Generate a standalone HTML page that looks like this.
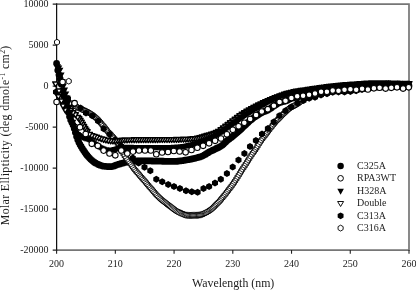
<!DOCTYPE html>
<html><head><meta charset="utf-8"><title>CD spectra</title>
<style>
html,body{margin:0;padding:0;background:#fff}
svg{display:block}
text{font-family:"Liberation Serif",serif;fill:#1c1c1c}
</style></head><body>
<svg width="416" height="291" viewBox="0 0 416 291">
<rect width="416" height="291" fill="#fff"/>
<path d="M56.6 4.1H409.0V250.1H56.6" fill="none" stroke="#767676" stroke-width="1.7"/><path d="M56.6 3.3V250.9" fill="none" stroke="#111" stroke-width="1.25"/><path d="M52.7 250.1H56.6M52.7 209.1H56.6M52.7 168.1H56.6M52.7 127.1H56.6M52.7 86.1H56.6M52.7 45.1H56.6M52.7 4.1H56.6M56.6 250.1V253.8M115.33 250.1V253.8M174.07 250.1V253.8M232.8 250.1V253.8M291.53 250.1V253.8M350.27 250.1V253.8M409 250.1V253.8" stroke="#222" stroke-width="1.1" fill="none"/><g font-size="10"><text x="48.5" y="253.4" text-anchor="end">-20000</text><text x="48.5" y="212.4" text-anchor="end">-15000</text><text x="48.5" y="171.4" text-anchor="end">-10000</text><text x="48.5" y="130.4" text-anchor="end">-5000</text><text x="48.5" y="89.4" text-anchor="end">0</text><text x="48.5" y="48.4" text-anchor="end">5000</text><text x="48.5" y="7.4" text-anchor="end">10000</text><text x="56.6" y="266.5" text-anchor="middle">200</text><text x="115.33" y="266.5" text-anchor="middle">210</text><text x="174.07" y="266.5" text-anchor="middle">220</text><text x="232.8" y="266.5" text-anchor="middle">230</text><text x="291.53" y="266.5" text-anchor="middle">240</text><text x="350.27" y="266.5" text-anchor="middle">250</text><text x="409" y="266.5" text-anchor="middle">260</text></g><text x="233.2" y="286.8" text-anchor="middle" font-size="11.85">Wavelength (nm)</text><text transform="translate(9.4,225.2) rotate(-90)" font-size="11.85" textLength="179.5" lengthAdjust="spacing">Molar Ellipticity (deg dmole<tspan font-size="7.7" dy="-4.3">-1</tspan><tspan dy="4.3"> cm</tspan><tspan font-size="7.7" dy="-4.3">2</tspan><tspan dy="4.3">)</tspan></text>
<path fill="#000" d="M405.6 86a3.4 3.4 0 1 0 6.8 0a3.4 3.4 0 1 0 -6.8 0ZM404.43 86a3.4 3.4 0 1 0 6.8 0a3.4 3.4 0 1 0 -6.8 0ZM403.25 86a3.4 3.4 0 1 0 6.8 0a3.4 3.4 0 1 0 -6.8 0ZM402.08 86a3.4 3.4 0 1 0 6.8 0a3.4 3.4 0 1 0 -6.8 0ZM400.9 86.01a3.4 3.4 0 1 0 6.8 0a3.4 3.4 0 1 0 -6.8 0ZM399.73 86.01a3.4 3.4 0 1 0 6.8 0a3.4 3.4 0 1 0 -6.8 0ZM398.55 86.02a3.4 3.4 0 1 0 6.8 0a3.4 3.4 0 1 0 -6.8 0ZM397.38 86.03a3.4 3.4 0 1 0 6.8 0a3.4 3.4 0 1 0 -6.8 0ZM396.2 86.03a3.4 3.4 0 1 0 6.8 0a3.4 3.4 0 1 0 -6.8 0ZM395.03 86.04a3.4 3.4 0 1 0 6.8 0a3.4 3.4 0 1 0 -6.8 0ZM393.85 86.05a3.4 3.4 0 1 0 6.8 0a3.4 3.4 0 1 0 -6.8 0ZM392.68 86.07a3.4 3.4 0 1 0 6.8 0a3.4 3.4 0 1 0 -6.8 0ZM391.5 86.08a3.4 3.4 0 1 0 6.8 0a3.4 3.4 0 1 0 -6.8 0ZM390.33 86.09a3.4 3.4 0 1 0 6.8 0a3.4 3.4 0 1 0 -6.8 0ZM389.15 86.11a3.4 3.4 0 1 0 6.8 0a3.4 3.4 0 1 0 -6.8 0ZM387.98 86.12a3.4 3.4 0 1 0 6.8 0a3.4 3.4 0 1 0 -6.8 0ZM386.81 86.14a3.4 3.4 0 1 0 6.8 0a3.4 3.4 0 1 0 -6.8 0ZM385.63 86.15a3.4 3.4 0 1 0 6.8 0a3.4 3.4 0 1 0 -6.8 0ZM384.46 86.17a3.4 3.4 0 1 0 6.8 0a3.4 3.4 0 1 0 -6.8 0ZM383.28 86.19a3.4 3.4 0 1 0 6.8 0a3.4 3.4 0 1 0 -6.8 0ZM382.11 86.21a3.4 3.4 0 1 0 6.8 0a3.4 3.4 0 1 0 -6.8 0ZM380.93 86.22a3.4 3.4 0 1 0 6.8 0a3.4 3.4 0 1 0 -6.8 0ZM379.76 86.24a3.4 3.4 0 1 0 6.8 0a3.4 3.4 0 1 0 -6.8 0ZM378.58 86.26a3.4 3.4 0 1 0 6.8 0a3.4 3.4 0 1 0 -6.8 0ZM377.41 86.29a3.4 3.4 0 1 0 6.8 0a3.4 3.4 0 1 0 -6.8 0ZM376.23 86.31a3.4 3.4 0 1 0 6.8 0a3.4 3.4 0 1 0 -6.8 0ZM375.06 86.33a3.4 3.4 0 1 0 6.8 0a3.4 3.4 0 1 0 -6.8 0ZM373.88 86.37a3.4 3.4 0 1 0 6.8 0a3.4 3.4 0 1 0 -6.8 0ZM372.71 86.41a3.4 3.4 0 1 0 6.8 0a3.4 3.4 0 1 0 -6.8 0ZM371.53 86.45a3.4 3.4 0 1 0 6.8 0a3.4 3.4 0 1 0 -6.8 0ZM370.36 86.5a3.4 3.4 0 1 0 6.8 0a3.4 3.4 0 1 0 -6.8 0ZM369.19 86.55a3.4 3.4 0 1 0 6.8 0a3.4 3.4 0 1 0 -6.8 0ZM368.01 86.61a3.4 3.4 0 1 0 6.8 0a3.4 3.4 0 1 0 -6.8 0ZM366.84 86.67a3.4 3.4 0 1 0 6.8 0a3.4 3.4 0 1 0 -6.8 0ZM365.66 86.74a3.4 3.4 0 1 0 6.8 0a3.4 3.4 0 1 0 -6.8 0ZM364.49 86.81a3.4 3.4 0 1 0 6.8 0a3.4 3.4 0 1 0 -6.8 0ZM363.31 86.88a3.4 3.4 0 1 0 6.8 0a3.4 3.4 0 1 0 -6.8 0ZM362.14 86.95a3.4 3.4 0 1 0 6.8 0a3.4 3.4 0 1 0 -6.8 0ZM360.96 87.02a3.4 3.4 0 1 0 6.8 0a3.4 3.4 0 1 0 -6.8 0ZM359.79 87.1a3.4 3.4 0 1 0 6.8 0a3.4 3.4 0 1 0 -6.8 0ZM358.61 87.17a3.4 3.4 0 1 0 6.8 0a3.4 3.4 0 1 0 -6.8 0ZM357.44 87.25a3.4 3.4 0 1 0 6.8 0a3.4 3.4 0 1 0 -6.8 0ZM356.26 87.32a3.4 3.4 0 1 0 6.8 0a3.4 3.4 0 1 0 -6.8 0ZM355.09 87.4a3.4 3.4 0 1 0 6.8 0a3.4 3.4 0 1 0 -6.8 0ZM353.91 87.48a3.4 3.4 0 1 0 6.8 0a3.4 3.4 0 1 0 -6.8 0ZM352.74 87.56a3.4 3.4 0 1 0 6.8 0a3.4 3.4 0 1 0 -6.8 0ZM351.57 87.64a3.4 3.4 0 1 0 6.8 0a3.4 3.4 0 1 0 -6.8 0ZM350.39 87.73a3.4 3.4 0 1 0 6.8 0a3.4 3.4 0 1 0 -6.8 0ZM349.22 87.82a3.4 3.4 0 1 0 6.8 0a3.4 3.4 0 1 0 -6.8 0ZM348.04 87.92a3.4 3.4 0 1 0 6.8 0a3.4 3.4 0 1 0 -6.8 0ZM346.87 88.01a3.4 3.4 0 1 0 6.8 0a3.4 3.4 0 1 0 -6.8 0ZM345.69 88.11a3.4 3.4 0 1 0 6.8 0a3.4 3.4 0 1 0 -6.8 0ZM344.52 88.22a3.4 3.4 0 1 0 6.8 0a3.4 3.4 0 1 0 -6.8 0ZM343.34 88.32a3.4 3.4 0 1 0 6.8 0a3.4 3.4 0 1 0 -6.8 0ZM342.17 88.43a3.4 3.4 0 1 0 6.8 0a3.4 3.4 0 1 0 -6.8 0ZM340.99 88.55a3.4 3.4 0 1 0 6.8 0a3.4 3.4 0 1 0 -6.8 0ZM339.82 88.66a3.4 3.4 0 1 0 6.8 0a3.4 3.4 0 1 0 -6.8 0ZM338.64 88.78a3.4 3.4 0 1 0 6.8 0a3.4 3.4 0 1 0 -6.8 0ZM337.47 88.91a3.4 3.4 0 1 0 6.8 0a3.4 3.4 0 1 0 -6.8 0ZM336.29 89.03a3.4 3.4 0 1 0 6.8 0a3.4 3.4 0 1 0 -6.8 0ZM335.12 89.17a3.4 3.4 0 1 0 6.8 0a3.4 3.4 0 1 0 -6.8 0ZM333.95 89.31a3.4 3.4 0 1 0 6.8 0a3.4 3.4 0 1 0 -6.8 0ZM332.77 89.46a3.4 3.4 0 1 0 6.8 0a3.4 3.4 0 1 0 -6.8 0ZM331.6 89.61a3.4 3.4 0 1 0 6.8 0a3.4 3.4 0 1 0 -6.8 0ZM330.42 89.77a3.4 3.4 0 1 0 6.8 0a3.4 3.4 0 1 0 -6.8 0ZM329.25 89.94a3.4 3.4 0 1 0 6.8 0a3.4 3.4 0 1 0 -6.8 0ZM328.07 90.12a3.4 3.4 0 1 0 6.8 0a3.4 3.4 0 1 0 -6.8 0ZM326.9 90.29a3.4 3.4 0 1 0 6.8 0a3.4 3.4 0 1 0 -6.8 0ZM325.72 90.48a3.4 3.4 0 1 0 6.8 0a3.4 3.4 0 1 0 -6.8 0ZM324.55 90.66a3.4 3.4 0 1 0 6.8 0a3.4 3.4 0 1 0 -6.8 0ZM323.37 90.85a3.4 3.4 0 1 0 6.8 0a3.4 3.4 0 1 0 -6.8 0ZM322.2 91.05a3.4 3.4 0 1 0 6.8 0a3.4 3.4 0 1 0 -6.8 0ZM321.02 91.24a3.4 3.4 0 1 0 6.8 0a3.4 3.4 0 1 0 -6.8 0ZM319.85 91.44a3.4 3.4 0 1 0 6.8 0a3.4 3.4 0 1 0 -6.8 0ZM318.67 91.64a3.4 3.4 0 1 0 6.8 0a3.4 3.4 0 1 0 -6.8 0ZM317.5 91.84a3.4 3.4 0 1 0 6.8 0a3.4 3.4 0 1 0 -6.8 0ZM316.33 92.05a3.4 3.4 0 1 0 6.8 0a3.4 3.4 0 1 0 -6.8 0ZM315.15 92.25a3.4 3.4 0 1 0 6.8 0a3.4 3.4 0 1 0 -6.8 0ZM313.98 92.47a3.4 3.4 0 1 0 6.8 0a3.4 3.4 0 1 0 -6.8 0ZM312.8 92.69a3.4 3.4 0 1 0 6.8 0a3.4 3.4 0 1 0 -6.8 0ZM311.63 92.91a3.4 3.4 0 1 0 6.8 0a3.4 3.4 0 1 0 -6.8 0ZM310.45 93.14a3.4 3.4 0 1 0 6.8 0a3.4 3.4 0 1 0 -6.8 0ZM309.28 93.37a3.4 3.4 0 1 0 6.8 0a3.4 3.4 0 1 0 -6.8 0ZM308.1 93.61a3.4 3.4 0 1 0 6.8 0a3.4 3.4 0 1 0 -6.8 0ZM306.93 93.85a3.4 3.4 0 1 0 6.8 0a3.4 3.4 0 1 0 -6.8 0ZM305.75 94.1a3.4 3.4 0 1 0 6.8 0a3.4 3.4 0 1 0 -6.8 0ZM304.58 94.35a3.4 3.4 0 1 0 6.8 0a3.4 3.4 0 1 0 -6.8 0ZM303.4 94.6a3.4 3.4 0 1 0 6.8 0a3.4 3.4 0 1 0 -6.8 0ZM302.23 94.86a3.4 3.4 0 1 0 6.8 0a3.4 3.4 0 1 0 -6.8 0ZM301.05 95.12a3.4 3.4 0 1 0 6.8 0a3.4 3.4 0 1 0 -6.8 0ZM299.88 95.4a3.4 3.4 0 1 0 6.8 0a3.4 3.4 0 1 0 -6.8 0ZM298.71 95.68a3.4 3.4 0 1 0 6.8 0a3.4 3.4 0 1 0 -6.8 0ZM297.53 95.97a3.4 3.4 0 1 0 6.8 0a3.4 3.4 0 1 0 -6.8 0ZM296.36 96.26a3.4 3.4 0 1 0 6.8 0a3.4 3.4 0 1 0 -6.8 0ZM295.18 96.56a3.4 3.4 0 1 0 6.8 0a3.4 3.4 0 1 0 -6.8 0ZM294.01 96.85a3.4 3.4 0 1 0 6.8 0a3.4 3.4 0 1 0 -6.8 0ZM292.83 97.12a3.4 3.4 0 1 0 6.8 0a3.4 3.4 0 1 0 -6.8 0ZM291.66 97.39a3.4 3.4 0 1 0 6.8 0a3.4 3.4 0 1 0 -6.8 0ZM290.48 97.67a3.4 3.4 0 1 0 6.8 0a3.4 3.4 0 1 0 -6.8 0ZM289.31 97.97a3.4 3.4 0 1 0 6.8 0a3.4 3.4 0 1 0 -6.8 0ZM288.13 98.32a3.4 3.4 0 1 0 6.8 0a3.4 3.4 0 1 0 -6.8 0ZM286.96 98.77a3.4 3.4 0 1 0 6.8 0a3.4 3.4 0 1 0 -6.8 0ZM285.78 99.32a3.4 3.4 0 1 0 6.8 0a3.4 3.4 0 1 0 -6.8 0ZM284.61 99.91a3.4 3.4 0 1 0 6.8 0a3.4 3.4 0 1 0 -6.8 0ZM283.43 100.47a3.4 3.4 0 1 0 6.8 0a3.4 3.4 0 1 0 -6.8 0ZM282.26 100.95a3.4 3.4 0 1 0 6.8 0a3.4 3.4 0 1 0 -6.8 0ZM281.09 101.3a3.4 3.4 0 1 0 6.8 0a3.4 3.4 0 1 0 -6.8 0ZM279.91 101.59a3.4 3.4 0 1 0 6.8 0a3.4 3.4 0 1 0 -6.8 0ZM278.74 101.85a3.4 3.4 0 1 0 6.8 0a3.4 3.4 0 1 0 -6.8 0ZM277.56 102.14a3.4 3.4 0 1 0 6.8 0a3.4 3.4 0 1 0 -6.8 0ZM276.39 102.5a3.4 3.4 0 1 0 6.8 0a3.4 3.4 0 1 0 -6.8 0ZM275.21 102.99a3.4 3.4 0 1 0 6.8 0a3.4 3.4 0 1 0 -6.8 0ZM274.04 103.67a3.4 3.4 0 1 0 6.8 0a3.4 3.4 0 1 0 -6.8 0ZM272.86 104.45a3.4 3.4 0 1 0 6.8 0a3.4 3.4 0 1 0 -6.8 0ZM271.69 105.27a3.4 3.4 0 1 0 6.8 0a3.4 3.4 0 1 0 -6.8 0ZM270.51 106.06a3.4 3.4 0 1 0 6.8 0a3.4 3.4 0 1 0 -6.8 0ZM269.34 106.86a3.4 3.4 0 1 0 6.8 0a3.4 3.4 0 1 0 -6.8 0ZM268.16 107.71a3.4 3.4 0 1 0 6.8 0a3.4 3.4 0 1 0 -6.8 0ZM266.99 108.54a3.4 3.4 0 1 0 6.8 0a3.4 3.4 0 1 0 -6.8 0ZM265.81 109.3a3.4 3.4 0 1 0 6.8 0a3.4 3.4 0 1 0 -6.8 0ZM264.64 109.93a3.4 3.4 0 1 0 6.8 0a3.4 3.4 0 1 0 -6.8 0ZM263.47 110.46a3.4 3.4 0 1 0 6.8 0a3.4 3.4 0 1 0 -6.8 0ZM262.29 110.93a3.4 3.4 0 1 0 6.8 0a3.4 3.4 0 1 0 -6.8 0ZM261.12 111.38a3.4 3.4 0 1 0 6.8 0a3.4 3.4 0 1 0 -6.8 0ZM259.94 111.86a3.4 3.4 0 1 0 6.8 0a3.4 3.4 0 1 0 -6.8 0ZM258.77 112.42a3.4 3.4 0 1 0 6.8 0a3.4 3.4 0 1 0 -6.8 0ZM257.59 113.04a3.4 3.4 0 1 0 6.8 0a3.4 3.4 0 1 0 -6.8 0ZM256.42 113.71a3.4 3.4 0 1 0 6.8 0a3.4 3.4 0 1 0 -6.8 0ZM255.24 114.42a3.4 3.4 0 1 0 6.8 0a3.4 3.4 0 1 0 -6.8 0ZM254.07 115.17a3.4 3.4 0 1 0 6.8 0a3.4 3.4 0 1 0 -6.8 0ZM252.89 115.94a3.4 3.4 0 1 0 6.8 0a3.4 3.4 0 1 0 -6.8 0ZM251.72 116.75a3.4 3.4 0 1 0 6.8 0a3.4 3.4 0 1 0 -6.8 0ZM250.54 117.6a3.4 3.4 0 1 0 6.8 0a3.4 3.4 0 1 0 -6.8 0ZM249.37 118.49a3.4 3.4 0 1 0 6.8 0a3.4 3.4 0 1 0 -6.8 0ZM248.19 119.41a3.4 3.4 0 1 0 6.8 0a3.4 3.4 0 1 0 -6.8 0ZM247.02 120.37a3.4 3.4 0 1 0 6.8 0a3.4 3.4 0 1 0 -6.8 0ZM245.85 121.37a3.4 3.4 0 1 0 6.8 0a3.4 3.4 0 1 0 -6.8 0ZM244.67 122.44a3.4 3.4 0 1 0 6.8 0a3.4 3.4 0 1 0 -6.8 0ZM243.5 123.53a3.4 3.4 0 1 0 6.8 0a3.4 3.4 0 1 0 -6.8 0ZM242.32 124.64a3.4 3.4 0 1 0 6.8 0a3.4 3.4 0 1 0 -6.8 0ZM241.15 125.74a3.4 3.4 0 1 0 6.8 0a3.4 3.4 0 1 0 -6.8 0ZM239.97 126.86a3.4 3.4 0 1 0 6.8 0a3.4 3.4 0 1 0 -6.8 0ZM238.8 128a3.4 3.4 0 1 0 6.8 0a3.4 3.4 0 1 0 -6.8 0ZM237.62 129.13a3.4 3.4 0 1 0 6.8 0a3.4 3.4 0 1 0 -6.8 0ZM236.45 130.24a3.4 3.4 0 1 0 6.8 0a3.4 3.4 0 1 0 -6.8 0ZM235.27 131.31a3.4 3.4 0 1 0 6.8 0a3.4 3.4 0 1 0 -6.8 0ZM234.1 132.34a3.4 3.4 0 1 0 6.8 0a3.4 3.4 0 1 0 -6.8 0ZM232.92 133.34a3.4 3.4 0 1 0 6.8 0a3.4 3.4 0 1 0 -6.8 0ZM231.75 134.32a3.4 3.4 0 1 0 6.8 0a3.4 3.4 0 1 0 -6.8 0ZM230.57 135.29a3.4 3.4 0 1 0 6.8 0a3.4 3.4 0 1 0 -6.8 0ZM229.4 136.24a3.4 3.4 0 1 0 6.8 0a3.4 3.4 0 1 0 -6.8 0ZM228.23 137.16a3.4 3.4 0 1 0 6.8 0a3.4 3.4 0 1 0 -6.8 0ZM227.05 138.05a3.4 3.4 0 1 0 6.8 0a3.4 3.4 0 1 0 -6.8 0ZM225.88 138.93a3.4 3.4 0 1 0 6.8 0a3.4 3.4 0 1 0 -6.8 0ZM224.7 139.83a3.4 3.4 0 1 0 6.8 0a3.4 3.4 0 1 0 -6.8 0ZM223.53 140.79a3.4 3.4 0 1 0 6.8 0a3.4 3.4 0 1 0 -6.8 0ZM222.35 141.89a3.4 3.4 0 1 0 6.8 0a3.4 3.4 0 1 0 -6.8 0ZM221.18 143.11a3.4 3.4 0 1 0 6.8 0a3.4 3.4 0 1 0 -6.8 0ZM220 144.31a3.4 3.4 0 1 0 6.8 0a3.4 3.4 0 1 0 -6.8 0ZM218.83 145.34a3.4 3.4 0 1 0 6.8 0a3.4 3.4 0 1 0 -6.8 0ZM217.65 146.11a3.4 3.4 0 1 0 6.8 0a3.4 3.4 0 1 0 -6.8 0ZM216.48 146.78a3.4 3.4 0 1 0 6.8 0a3.4 3.4 0 1 0 -6.8 0ZM215.3 147.38a3.4 3.4 0 1 0 6.8 0a3.4 3.4 0 1 0 -6.8 0ZM214.13 147.95a3.4 3.4 0 1 0 6.8 0a3.4 3.4 0 1 0 -6.8 0ZM212.95 148.52a3.4 3.4 0 1 0 6.8 0a3.4 3.4 0 1 0 -6.8 0ZM211.78 149.11a3.4 3.4 0 1 0 6.8 0a3.4 3.4 0 1 0 -6.8 0ZM210.61 149.67a3.4 3.4 0 1 0 6.8 0a3.4 3.4 0 1 0 -6.8 0ZM209.43 150.22a3.4 3.4 0 1 0 6.8 0a3.4 3.4 0 1 0 -6.8 0ZM208.26 150.78a3.4 3.4 0 1 0 6.8 0a3.4 3.4 0 1 0 -6.8 0ZM207.08 151.35a3.4 3.4 0 1 0 6.8 0a3.4 3.4 0 1 0 -6.8 0ZM205.91 151.95a3.4 3.4 0 1 0 6.8 0a3.4 3.4 0 1 0 -6.8 0ZM204.73 152.63a3.4 3.4 0 1 0 6.8 0a3.4 3.4 0 1 0 -6.8 0ZM203.56 153.37a3.4 3.4 0 1 0 6.8 0a3.4 3.4 0 1 0 -6.8 0ZM202.38 154.13a3.4 3.4 0 1 0 6.8 0a3.4 3.4 0 1 0 -6.8 0ZM201.21 154.87a3.4 3.4 0 1 0 6.8 0a3.4 3.4 0 1 0 -6.8 0ZM200.03 155.54a3.4 3.4 0 1 0 6.8 0a3.4 3.4 0 1 0 -6.8 0ZM198.86 156.1a3.4 3.4 0 1 0 6.8 0a3.4 3.4 0 1 0 -6.8 0ZM197.68 156.53a3.4 3.4 0 1 0 6.8 0a3.4 3.4 0 1 0 -6.8 0ZM196.51 156.91a3.4 3.4 0 1 0 6.8 0a3.4 3.4 0 1 0 -6.8 0ZM195.33 157.26a3.4 3.4 0 1 0 6.8 0a3.4 3.4 0 1 0 -6.8 0ZM194.16 157.57a3.4 3.4 0 1 0 6.8 0a3.4 3.4 0 1 0 -6.8 0ZM192.99 157.86a3.4 3.4 0 1 0 6.8 0a3.4 3.4 0 1 0 -6.8 0ZM191.81 158.15a3.4 3.4 0 1 0 6.8 0a3.4 3.4 0 1 0 -6.8 0ZM190.64 158.43a3.4 3.4 0 1 0 6.8 0a3.4 3.4 0 1 0 -6.8 0ZM189.46 158.71a3.4 3.4 0 1 0 6.8 0a3.4 3.4 0 1 0 -6.8 0ZM188.29 158.98a3.4 3.4 0 1 0 6.8 0a3.4 3.4 0 1 0 -6.8 0ZM187.11 159.24a3.4 3.4 0 1 0 6.8 0a3.4 3.4 0 1 0 -6.8 0ZM185.94 159.47a3.4 3.4 0 1 0 6.8 0a3.4 3.4 0 1 0 -6.8 0ZM184.76 159.68a3.4 3.4 0 1 0 6.8 0a3.4 3.4 0 1 0 -6.8 0ZM183.59 159.87a3.4 3.4 0 1 0 6.8 0a3.4 3.4 0 1 0 -6.8 0ZM182.41 160.07a3.4 3.4 0 1 0 6.8 0a3.4 3.4 0 1 0 -6.8 0ZM181.24 160.26a3.4 3.4 0 1 0 6.8 0a3.4 3.4 0 1 0 -6.8 0ZM180.06 160.45a3.4 3.4 0 1 0 6.8 0a3.4 3.4 0 1 0 -6.8 0ZM178.89 160.64a3.4 3.4 0 1 0 6.8 0a3.4 3.4 0 1 0 -6.8 0ZM177.71 160.81a3.4 3.4 0 1 0 6.8 0a3.4 3.4 0 1 0 -6.8 0ZM176.54 160.97a3.4 3.4 0 1 0 6.8 0a3.4 3.4 0 1 0 -6.8 0ZM175.37 161.11a3.4 3.4 0 1 0 6.8 0a3.4 3.4 0 1 0 -6.8 0ZM174.19 161.23a3.4 3.4 0 1 0 6.8 0a3.4 3.4 0 1 0 -6.8 0ZM173.02 161.32a3.4 3.4 0 1 0 6.8 0a3.4 3.4 0 1 0 -6.8 0ZM171.84 161.38a3.4 3.4 0 1 0 6.8 0a3.4 3.4 0 1 0 -6.8 0ZM170.67 161.4a3.4 3.4 0 1 0 6.8 0a3.4 3.4 0 1 0 -6.8 0ZM169.49 161.4a3.4 3.4 0 1 0 6.8 0a3.4 3.4 0 1 0 -6.8 0ZM168.32 161.39a3.4 3.4 0 1 0 6.8 0a3.4 3.4 0 1 0 -6.8 0ZM167.14 161.38a3.4 3.4 0 1 0 6.8 0a3.4 3.4 0 1 0 -6.8 0ZM165.97 161.37a3.4 3.4 0 1 0 6.8 0a3.4 3.4 0 1 0 -6.8 0ZM164.79 161.35a3.4 3.4 0 1 0 6.8 0a3.4 3.4 0 1 0 -6.8 0ZM163.62 161.33a3.4 3.4 0 1 0 6.8 0a3.4 3.4 0 1 0 -6.8 0ZM162.44 161.31a3.4 3.4 0 1 0 6.8 0a3.4 3.4 0 1 0 -6.8 0ZM161.27 161.29a3.4 3.4 0 1 0 6.8 0a3.4 3.4 0 1 0 -6.8 0ZM160.09 161.26a3.4 3.4 0 1 0 6.8 0a3.4 3.4 0 1 0 -6.8 0ZM158.92 161.24a3.4 3.4 0 1 0 6.8 0a3.4 3.4 0 1 0 -6.8 0ZM157.75 161.22a3.4 3.4 0 1 0 6.8 0a3.4 3.4 0 1 0 -6.8 0ZM156.57 161.2a3.4 3.4 0 1 0 6.8 0a3.4 3.4 0 1 0 -6.8 0ZM155.4 161.18a3.4 3.4 0 1 0 6.8 0a3.4 3.4 0 1 0 -6.8 0ZM154.22 161.15a3.4 3.4 0 1 0 6.8 0a3.4 3.4 0 1 0 -6.8 0ZM153.05 161.12a3.4 3.4 0 1 0 6.8 0a3.4 3.4 0 1 0 -6.8 0ZM151.87 161.08a3.4 3.4 0 1 0 6.8 0a3.4 3.4 0 1 0 -6.8 0ZM150.7 161.05a3.4 3.4 0 1 0 6.8 0a3.4 3.4 0 1 0 -6.8 0ZM149.52 161.02a3.4 3.4 0 1 0 6.8 0a3.4 3.4 0 1 0 -6.8 0ZM148.35 160.99a3.4 3.4 0 1 0 6.8 0a3.4 3.4 0 1 0 -6.8 0ZM147.17 160.96a3.4 3.4 0 1 0 6.8 0a3.4 3.4 0 1 0 -6.8 0ZM146 160.93a3.4 3.4 0 1 0 6.8 0a3.4 3.4 0 1 0 -6.8 0ZM144.82 160.92a3.4 3.4 0 1 0 6.8 0a3.4 3.4 0 1 0 -6.8 0ZM143.65 160.9a3.4 3.4 0 1 0 6.8 0a3.4 3.4 0 1 0 -6.8 0ZM142.47 160.9a3.4 3.4 0 1 0 6.8 0a3.4 3.4 0 1 0 -6.8 0ZM141.3 160.9a3.4 3.4 0 1 0 6.8 0a3.4 3.4 0 1 0 -6.8 0ZM140.13 160.9a3.4 3.4 0 1 0 6.8 0a3.4 3.4 0 1 0 -6.8 0ZM138.95 160.9a3.4 3.4 0 1 0 6.8 0a3.4 3.4 0 1 0 -6.8 0ZM137.78 160.9a3.4 3.4 0 1 0 6.8 0a3.4 3.4 0 1 0 -6.8 0ZM136.6 160.9a3.4 3.4 0 1 0 6.8 0a3.4 3.4 0 1 0 -6.8 0ZM135.43 160.91a3.4 3.4 0 1 0 6.8 0a3.4 3.4 0 1 0 -6.8 0ZM134.25 160.94a3.4 3.4 0 1 0 6.8 0a3.4 3.4 0 1 0 -6.8 0ZM133.08 161a3.4 3.4 0 1 0 6.8 0a3.4 3.4 0 1 0 -6.8 0ZM131.9 161.06a3.4 3.4 0 1 0 6.8 0a3.4 3.4 0 1 0 -6.8 0ZM130.73 161.14a3.4 3.4 0 1 0 6.8 0a3.4 3.4 0 1 0 -6.8 0ZM129.55 161.23a3.4 3.4 0 1 0 6.8 0a3.4 3.4 0 1 0 -6.8 0ZM128.38 161.33a3.4 3.4 0 1 0 6.8 0a3.4 3.4 0 1 0 -6.8 0ZM127.2 161.44a3.4 3.4 0 1 0 6.8 0a3.4 3.4 0 1 0 -6.8 0ZM126.03 161.59a3.4 3.4 0 1 0 6.8 0a3.4 3.4 0 1 0 -6.8 0ZM124.85 161.8a3.4 3.4 0 1 0 6.8 0a3.4 3.4 0 1 0 -6.8 0ZM123.68 162.05a3.4 3.4 0 1 0 6.8 0a3.4 3.4 0 1 0 -6.8 0ZM122.51 162.32a3.4 3.4 0 1 0 6.8 0a3.4 3.4 0 1 0 -6.8 0ZM121.33 162.6a3.4 3.4 0 1 0 6.8 0a3.4 3.4 0 1 0 -6.8 0ZM120.16 162.89a3.4 3.4 0 1 0 6.8 0a3.4 3.4 0 1 0 -6.8 0ZM118.98 163.19a3.4 3.4 0 1 0 6.8 0a3.4 3.4 0 1 0 -6.8 0ZM117.81 163.52a3.4 3.4 0 1 0 6.8 0a3.4 3.4 0 1 0 -6.8 0ZM116.63 163.88a3.4 3.4 0 1 0 6.8 0a3.4 3.4 0 1 0 -6.8 0ZM115.46 164.24a3.4 3.4 0 1 0 6.8 0a3.4 3.4 0 1 0 -6.8 0ZM114.28 164.6a3.4 3.4 0 1 0 6.8 0a3.4 3.4 0 1 0 -6.8 0ZM113.11 165.02a3.4 3.4 0 1 0 6.8 0a3.4 3.4 0 1 0 -6.8 0ZM111.93 165.48a3.4 3.4 0 1 0 6.8 0a3.4 3.4 0 1 0 -6.8 0ZM110.76 165.94a3.4 3.4 0 1 0 6.8 0a3.4 3.4 0 1 0 -6.8 0ZM109.58 166.33a3.4 3.4 0 1 0 6.8 0a3.4 3.4 0 1 0 -6.8 0ZM108.41 166.61a3.4 3.4 0 1 0 6.8 0a3.4 3.4 0 1 0 -6.8 0ZM107.23 166.7a3.4 3.4 0 1 0 6.8 0a3.4 3.4 0 1 0 -6.8 0ZM106.06 166.68a3.4 3.4 0 1 0 6.8 0a3.4 3.4 0 1 0 -6.8 0ZM104.89 166.63a3.4 3.4 0 1 0 6.8 0a3.4 3.4 0 1 0 -6.8 0ZM103.71 166.54a3.4 3.4 0 1 0 6.8 0a3.4 3.4 0 1 0 -6.8 0ZM102.54 166.44a3.4 3.4 0 1 0 6.8 0a3.4 3.4 0 1 0 -6.8 0ZM101.36 166.31a3.4 3.4 0 1 0 6.8 0a3.4 3.4 0 1 0 -6.8 0ZM100.19 166.17a3.4 3.4 0 1 0 6.8 0a3.4 3.4 0 1 0 -6.8 0ZM99.01 165.94a3.4 3.4 0 1 0 6.8 0a3.4 3.4 0 1 0 -6.8 0ZM97.84 165.6a3.4 3.4 0 1 0 6.8 0a3.4 3.4 0 1 0 -6.8 0ZM96.66 165.16a3.4 3.4 0 1 0 6.8 0a3.4 3.4 0 1 0 -6.8 0ZM95.49 164.67a3.4 3.4 0 1 0 6.8 0a3.4 3.4 0 1 0 -6.8 0ZM94.31 164.13a3.4 3.4 0 1 0 6.8 0a3.4 3.4 0 1 0 -6.8 0ZM93.14 163.57a3.4 3.4 0 1 0 6.8 0a3.4 3.4 0 1 0 -6.8 0ZM91.96 162.92a3.4 3.4 0 1 0 6.8 0a3.4 3.4 0 1 0 -6.8 0ZM90.79 162.16a3.4 3.4 0 1 0 6.8 0a3.4 3.4 0 1 0 -6.8 0ZM89.61 161.3a3.4 3.4 0 1 0 6.8 0a3.4 3.4 0 1 0 -6.8 0ZM88.44 160.37a3.4 3.4 0 1 0 6.8 0a3.4 3.4 0 1 0 -6.8 0ZM87.27 159.31a3.4 3.4 0 1 0 6.8 0a3.4 3.4 0 1 0 -6.8 0ZM86.09 158.12a3.4 3.4 0 1 0 6.8 0a3.4 3.4 0 1 0 -6.8 0ZM84.92 156.8a3.4 3.4 0 1 0 6.8 0a3.4 3.4 0 1 0 -6.8 0ZM83.74 155.4a3.4 3.4 0 1 0 6.8 0a3.4 3.4 0 1 0 -6.8 0ZM82.57 153.89a3.4 3.4 0 1 0 6.8 0a3.4 3.4 0 1 0 -6.8 0ZM81.39 152.26a3.4 3.4 0 1 0 6.8 0a3.4 3.4 0 1 0 -6.8 0ZM80.22 150.52a3.4 3.4 0 1 0 6.8 0a3.4 3.4 0 1 0 -6.8 0ZM79.04 148.67a3.4 3.4 0 1 0 6.8 0a3.4 3.4 0 1 0 -6.8 0ZM77.87 146.71a3.4 3.4 0 1 0 6.8 0a3.4 3.4 0 1 0 -6.8 0ZM76.69 144.65a3.4 3.4 0 1 0 6.8 0a3.4 3.4 0 1 0 -6.8 0ZM75.52 142.43a3.4 3.4 0 1 0 6.8 0a3.4 3.4 0 1 0 -6.8 0ZM74.34 139.86a3.4 3.4 0 1 0 6.8 0a3.4 3.4 0 1 0 -6.8 0ZM73.17 136.58a3.4 3.4 0 1 0 6.8 0a3.4 3.4 0 1 0 -6.8 0ZM71.99 132.39a3.4 3.4 0 1 0 6.8 0a3.4 3.4 0 1 0 -6.8 0ZM70.82 128.59a3.4 3.4 0 1 0 6.8 0a3.4 3.4 0 1 0 -6.8 0ZM69.65 125.12a3.4 3.4 0 1 0 6.8 0a3.4 3.4 0 1 0 -6.8 0ZM68.47 122.45a3.4 3.4 0 1 0 6.8 0a3.4 3.4 0 1 0 -6.8 0ZM67.3 119.96a3.4 3.4 0 1 0 6.8 0a3.4 3.4 0 1 0 -6.8 0ZM66.12 116.6a3.4 3.4 0 1 0 6.8 0a3.4 3.4 0 1 0 -6.8 0ZM64.95 112.26a3.4 3.4 0 1 0 6.8 0a3.4 3.4 0 1 0 -6.8 0ZM63.77 107.9a3.4 3.4 0 1 0 6.8 0a3.4 3.4 0 1 0 -6.8 0ZM62.6 104.06a3.4 3.4 0 1 0 6.8 0a3.4 3.4 0 1 0 -6.8 0ZM61.42 100.16a3.4 3.4 0 1 0 6.8 0a3.4 3.4 0 1 0 -6.8 0ZM60.25 95.79a3.4 3.4 0 1 0 6.8 0a3.4 3.4 0 1 0 -6.8 0ZM59.07 90.82a3.4 3.4 0 1 0 6.8 0a3.4 3.4 0 1 0 -6.8 0ZM57.9 84.27a3.4 3.4 0 1 0 6.8 0a3.4 3.4 0 1 0 -6.8 0ZM56.72 78.69a3.4 3.4 0 1 0 6.8 0a3.4 3.4 0 1 0 -6.8 0ZM55.55 74.8a3.4 3.4 0 1 0 6.8 0a3.4 3.4 0 1 0 -6.8 0ZM54.37 70.32a3.4 3.4 0 1 0 6.8 0a3.4 3.4 0 1 0 -6.8 0ZM53.2 63.3a3.4 3.4 0 1 0 6.8 0a3.4 3.4 0 1 0 -6.8 0Z"/>
<path d="M411.47 87.63L409 89.05L406.53 87.63L406.53 84.78L409 83.35L411.47 84.78ZM410.29 87.63L407.83 89.05L405.36 87.63L405.36 84.78L407.83 83.35L410.29 84.78ZM409.12 87.63L406.65 89.05L404.18 87.63L404.18 84.78L406.65 83.35L409.12 84.78ZM407.94 87.64L405.48 89.06L403.01 87.64L403.01 84.79L405.48 83.36L407.94 84.79ZM406.77 87.65L404.3 89.07L401.83 87.65L401.83 84.8L404.3 83.37L406.77 84.8ZM405.59 87.66L403.13 89.08L400.66 87.66L400.66 84.81L403.13 83.38L405.59 84.81ZM404.42 87.67L401.95 89.1L399.48 87.67L399.48 84.82L401.95 83.4L404.42 84.82ZM403.25 87.69L400.78 89.12L398.31 87.69L398.31 84.84L400.78 83.42L403.25 84.84ZM402.07 87.71L399.6 89.14L397.13 87.71L397.13 84.86L399.6 83.44L402.07 84.86ZM400.9 87.73L398.43 89.16L395.96 87.73L395.96 84.88L398.43 83.46L400.9 84.88ZM399.72 87.76L397.25 89.18L394.79 87.76L394.79 84.91L397.25 83.48L399.72 84.91ZM398.55 87.78L396.08 89.21L393.61 87.78L393.61 84.93L396.08 83.51L398.55 84.93ZM397.37 87.81L394.9 89.23L392.44 87.81L392.44 84.96L394.9 83.53L397.37 84.96ZM396.2 87.84L393.73 89.26L391.26 87.84L391.26 84.99L393.73 83.56L396.2 84.99ZM395.02 87.86L392.55 89.29L390.09 87.86L390.09 85.01L392.55 83.59L395.02 85.01ZM393.85 87.89L391.38 89.32L388.91 87.89L388.91 85.04L391.38 83.62L393.85 85.04ZM392.67 87.92L390.21 89.35L387.74 87.92L387.74 85.07L390.21 83.65L392.67 85.07ZM391.5 87.95L389.03 89.37L386.56 87.95L386.56 85.1L389.03 83.67L391.5 85.1ZM390.32 87.98L387.86 89.41L385.39 87.98L385.39 85.13L387.86 83.71L390.32 85.13ZM389.15 88.02L386.68 89.44L384.21 88.02L384.21 85.17L386.68 83.74L389.15 85.17ZM387.97 88.06L385.51 89.48L383.04 88.06L383.04 85.21L385.51 83.78L387.97 85.21ZM386.8 88.1L384.33 89.52L381.86 88.1L381.86 85.25L384.33 83.82L386.8 85.25ZM385.63 88.15L383.16 89.57L380.69 88.15L380.69 85.3L383.16 83.87L385.63 85.3ZM384.45 88.2L381.98 89.62L379.51 88.2L379.51 85.35L381.98 83.92L384.45 85.35ZM383.28 88.25L380.81 89.67L378.34 88.25L378.34 85.4L380.81 83.97L383.28 85.4ZM382.1 88.31L379.63 89.73L377.17 88.31L377.17 85.46L379.63 84.03L382.1 85.46ZM380.93 88.37L378.46 89.79L375.99 88.37L375.99 85.52L378.46 84.09L380.93 85.52ZM379.75 88.43L377.28 89.86L374.82 88.43L374.82 85.58L377.28 84.16L379.75 85.58ZM378.58 88.5L376.11 89.92L373.64 88.5L373.64 85.65L376.11 84.22L378.58 85.65ZM377.4 88.57L374.93 90L372.47 88.57L372.47 85.72L374.93 84.3L377.4 85.72ZM376.23 88.65L373.76 90.07L371.29 88.65L371.29 85.8L373.76 84.37L376.23 85.8ZM375.05 88.73L372.59 90.16L370.12 88.73L370.12 85.88L372.59 84.46L375.05 85.88ZM373.88 88.82L371.41 90.24L368.94 88.82L368.94 85.97L371.41 84.54L373.88 85.97ZM372.7 88.91L370.24 90.33L367.77 88.91L367.77 86.06L370.24 84.63L372.7 86.06ZM371.53 89.01L369.06 90.44L366.59 89.01L366.59 86.16L369.06 84.74L371.53 86.16ZM370.35 89.16L367.89 90.58L365.42 89.16L365.42 86.31L367.89 84.88L370.35 86.31ZM369.18 89.34L366.71 90.76L364.24 89.34L364.24 86.49L366.71 85.06L369.18 86.49ZM368.01 89.53L365.54 90.96L363.07 89.53L363.07 86.68L365.54 85.26L368.01 86.68ZM366.83 89.74L364.36 91.16L361.89 89.74L361.89 86.89L364.36 85.46L366.83 86.89ZM365.66 89.94L363.19 91.37L360.72 89.94L360.72 87.09L363.19 85.67L365.66 87.09ZM364.48 90.14L362.01 91.56L359.55 90.14L359.55 87.29L362.01 85.86L364.48 87.29ZM363.31 90.32L360.84 91.74L358.37 90.32L358.37 87.47L360.84 86.04L363.31 87.47ZM362.13 90.47L359.66 91.89L357.2 90.47L357.2 87.62L359.66 86.19L362.13 87.62ZM360.96 90.61L358.49 92.03L356.02 90.61L356.02 87.76L358.49 86.33L360.96 87.76ZM359.78 90.74L357.31 92.17L354.85 90.74L354.85 87.89L357.31 86.47L359.78 87.89ZM358.61 90.88L356.14 92.3L353.67 90.88L353.67 88.03L356.14 86.6L358.61 88.03ZM357.43 91L354.97 92.43L352.5 91L352.5 88.15L354.97 86.73L357.43 88.15ZM356.26 91.12L353.79 92.55L351.32 91.12L351.32 88.27L353.79 86.85L356.26 88.27ZM355.08 91.23L352.62 92.65L350.15 91.23L350.15 88.38L352.62 86.95L355.08 88.38ZM353.91 91.33L351.44 92.75L348.97 91.33L348.97 88.48L351.44 87.05L353.91 88.48ZM352.73 91.41L350.27 92.83L347.8 91.41L347.8 88.56L350.27 87.13L352.73 88.56ZM351.56 91.48L349.09 92.9L346.62 91.48L346.62 88.63L349.09 87.2L351.56 88.63ZM350.39 91.53L347.92 92.96L345.45 91.53L345.45 88.68L347.92 87.26L350.39 88.68ZM349.21 91.58L346.74 93.01L344.27 91.58L344.27 88.73L346.74 87.31L349.21 88.73ZM348.04 91.62L345.57 93.05L343.1 91.62L343.1 88.77L345.57 87.35L348.04 88.77ZM346.86 91.66L344.39 93.09L341.93 91.66L341.93 88.81L344.39 87.39L346.86 88.81ZM345.69 91.7L343.22 93.13L340.75 91.7L340.75 88.85L343.22 87.43L345.69 88.85ZM344.51 91.75L342.04 93.17L339.58 91.75L339.58 88.9L342.04 87.47L344.51 88.9ZM343.34 91.8L340.87 93.22L338.4 91.8L338.4 88.95L340.87 87.52L343.34 88.95ZM342.16 91.85L339.69 93.28L337.23 91.85L337.23 89L339.69 87.58L342.16 89ZM340.99 91.92L338.52 93.35L336.05 91.92L336.05 89.07L338.52 87.65L340.99 89.07ZM339.81 92.01L337.35 93.44L334.88 92.01L334.88 89.16L337.35 87.74L339.81 89.16ZM338.64 92.12L336.17 93.54L333.7 92.12L333.7 89.27L336.17 87.84L338.64 89.27ZM337.46 92.24L335 93.67L332.53 92.24L332.53 89.39L335 87.97L337.46 89.39ZM336.29 92.38L333.82 93.81L331.35 92.38L331.35 89.53L333.82 88.11L336.29 89.53ZM335.11 92.54L332.65 93.96L330.18 92.54L330.18 89.69L332.65 88.26L335.11 89.69ZM333.94 92.7L331.47 94.13L329 92.7L329 89.85L331.47 88.43L333.94 89.85ZM332.77 92.88L330.3 94.31L327.83 92.88L327.83 90.03L330.3 88.61L332.77 90.03ZM331.59 93.07L329.12 94.49L326.65 93.07L326.65 90.22L329.12 88.79L331.59 90.22ZM330.42 93.26L327.95 94.69L325.48 93.26L325.48 90.41L327.95 88.99L330.42 90.41ZM329.24 93.46L326.77 94.89L324.31 93.46L324.31 90.61L326.77 89.19L329.24 90.61ZM328.07 93.69L325.6 95.11L323.13 93.69L323.13 90.84L325.6 89.41L328.07 90.84ZM326.89 93.94L324.42 95.37L321.96 93.94L321.96 91.09L324.42 89.67L326.89 91.09ZM325.72 94.22L323.25 95.64L320.78 94.22L320.78 91.37L323.25 89.94L325.72 91.37ZM324.54 94.52L322.07 95.94L319.61 94.52L319.61 91.67L322.07 90.24L324.54 91.67ZM323.37 94.83L320.9 96.25L318.43 94.83L318.43 91.98L320.9 90.55L323.37 91.98ZM322.19 95.15L319.73 96.57L317.26 95.15L317.26 92.3L319.73 90.87L322.19 92.3ZM321.02 95.47L318.55 96.9L316.08 95.47L316.08 92.62L318.55 91.2L321.02 92.62ZM319.84 95.79L317.38 97.22L314.91 95.79L314.91 92.94L317.38 91.52L319.84 92.94ZM318.67 96.11L316.2 97.54L313.73 96.11L313.73 93.26L316.2 91.84L318.67 93.26ZM317.49 96.42L315.03 97.84L312.56 96.42L312.56 93.57L315.03 92.14L317.49 93.57ZM316.32 96.7L313.85 98.13L311.38 96.7L311.38 93.85L313.85 92.43L316.32 93.85ZM315.15 96.98L312.68 98.4L310.21 96.98L310.21 94.13L312.68 92.7L315.15 94.13ZM313.97 97.26L311.5 98.68L309.03 97.26L309.03 94.41L311.5 92.98L313.97 94.41ZM312.8 97.57L310.33 99L307.86 97.57L307.86 94.72L310.33 93.3L312.8 94.72ZM311.62 97.94L309.15 99.37L306.69 97.94L306.69 95.09L309.15 93.67L311.62 95.09ZM310.45 98.39L307.98 99.81L305.51 98.39L305.51 95.54L307.98 94.11L310.45 95.54ZM309.27 98.92L306.8 100.34L304.34 98.92L304.34 96.07L306.8 94.64L309.27 96.07ZM308.1 99.51L305.63 100.94L303.16 99.51L303.16 96.66L305.63 95.24L308.1 96.66ZM306.92 100.16L304.45 101.59L301.99 100.16L301.99 97.31L304.45 95.89L306.92 97.31ZM305.75 100.86L303.28 102.29L300.81 100.86L300.81 98.01L303.28 96.59L305.75 98.01ZM304.57 101.7L302.11 103.12L299.64 101.7L299.64 98.85L302.11 97.42L304.57 98.85ZM303.4 102.66L300.93 104.09L298.46 102.66L298.46 99.81L300.93 98.39L303.4 99.81ZM302.22 103.66L299.76 105.08L297.29 103.66L297.29 100.81L299.76 99.38L302.22 100.81ZM301.05 104.6L298.58 106.03L296.11 104.6L296.11 101.75L298.58 100.33L301.05 101.75ZM299.87 105.41L297.41 106.84L294.94 105.41L294.94 102.56L297.41 101.14L299.87 102.56ZM298.7 106.09L296.23 107.52L293.76 106.09L293.76 103.24L296.23 101.82L298.7 103.24ZM297.53 106.7L295.06 108.12L292.59 106.7L292.59 103.85L295.06 102.42L297.53 103.85ZM296.35 107.27L293.88 108.7L291.41 107.27L291.41 104.42L293.88 103L296.35 104.42ZM295.18 107.85L292.71 109.28L290.24 107.85L290.24 105L292.71 103.58L295.18 105ZM294 108.48L291.53 109.9L289.07 108.48L289.07 105.63L291.53 104.2L294 105.63ZM292.83 109.19L290.36 110.61L287.89 109.19L287.89 106.34L290.36 104.91L292.83 106.34ZM291.65 110.01L289.18 111.44L286.72 110.01L286.72 107.16L289.18 105.74L291.65 107.16ZM290.48 110.96L288.01 112.39L285.54 110.96L285.54 108.11L288.01 106.69L290.48 108.11ZM289.3 112.01L286.83 113.43L284.37 112.01L284.37 109.16L286.83 107.73L289.3 109.16ZM288.13 113.12L285.66 114.54L283.19 113.12L283.19 110.27L285.66 108.84L288.13 110.27ZM286.95 114.27L284.49 115.69L282.02 114.27L282.02 111.42L284.49 109.99L286.95 111.42ZM285.78 115.43L283.31 116.86L280.84 115.43L280.84 112.58L283.31 111.16L285.78 112.58ZM284.6 116.58L282.14 118.01L279.67 116.58L279.67 113.73L282.14 112.31L284.6 113.73ZM283.43 117.73L280.96 119.16L278.49 117.73L278.49 114.88L280.96 113.46L283.43 114.88ZM282.25 118.9L279.79 120.32L277.32 118.9L277.32 116.05L279.79 114.62L282.25 116.05ZM281.08 120.09L278.61 121.51L276.14 120.09L276.14 117.24L278.61 115.81L281.08 117.24ZM279.91 121.31L277.44 122.74L274.97 121.31L274.97 118.46L277.44 117.04L279.91 118.46ZM278.73 122.57L276.26 123.99L273.79 122.57L273.79 119.72L276.26 118.29L278.73 119.72ZM277.56 123.87L275.09 125.3L272.62 123.87L272.62 121.02L275.09 119.6L277.56 121.02ZM276.38 125.22L273.91 126.65L271.45 125.22L271.45 122.37L273.91 120.95L276.38 122.37ZM275.21 126.65L272.74 128.07L270.27 126.65L270.27 123.8L272.74 122.37L275.21 123.8ZM274.03 128.13L271.56 129.55L269.1 128.13L269.1 125.28L271.56 123.85L274.03 125.28ZM272.86 129.65L270.39 131.07L267.92 129.65L267.92 126.8L270.39 125.37L272.86 126.8ZM271.68 131.19L269.21 132.62L266.75 131.19L266.75 128.34L269.21 126.92L271.68 128.34ZM270.51 132.75L268.04 134.18L265.57 132.75L265.57 129.9L268.04 128.48L270.51 129.9ZM269.33 134.3L266.87 135.73L264.4 134.3L264.4 131.45L266.87 130.03L269.33 131.45ZM268.16 135.84L265.69 137.26L263.22 135.84L263.22 132.99L265.69 131.56L268.16 132.99ZM266.98 137.36L264.52 138.79L262.05 137.36L262.05 134.51L264.52 133.09L266.98 134.51ZM265.81 138.9L263.34 140.33L260.87 138.9L260.87 136.05L263.34 134.63L265.81 136.05ZM264.63 140.48L262.17 141.9L259.7 140.48L259.7 137.63L262.17 136.2L264.63 137.63ZM263.46 142.1L260.99 143.53L258.52 142.1L258.52 139.25L260.99 137.83L263.46 139.25ZM262.29 143.8L259.82 145.22L257.35 143.8L257.35 140.95L259.82 139.52L262.29 140.95ZM261.11 145.61L258.64 147.04L256.17 145.61L256.17 142.76L258.64 141.34L261.11 142.76ZM259.94 147.64L257.47 149.06L255 147.64L255 144.79L257.47 143.36L259.94 144.79ZM258.76 149.65L256.29 151.07L253.83 149.65L253.83 146.8L256.29 145.37L258.76 146.8ZM257.59 151.41L255.12 152.84L252.65 151.41L252.65 148.56L255.12 147.14L257.59 148.56ZM256.41 152.98L253.94 154.41L251.48 152.98L251.48 150.13L253.94 148.71L256.41 150.13ZM255.24 154.54L252.77 155.96L250.3 154.54L250.3 151.69L252.77 150.26L255.24 151.69ZM254.06 156.23L251.59 157.66L249.13 156.23L249.13 153.38L251.59 151.96L254.06 153.38ZM252.89 158.09L250.42 159.51L247.95 158.09L247.95 155.24L250.42 153.81L252.89 155.24ZM251.71 160.01L249.25 161.44L246.78 160.01L246.78 157.16L249.25 155.74L251.71 157.16ZM250.54 161.91L248.07 163.34L245.6 161.91L245.6 159.06L248.07 157.64L250.54 159.06ZM249.36 163.75L246.9 165.18L244.43 163.75L244.43 160.9L246.9 159.48L249.36 160.9ZM248.19 165.58L245.72 167L243.25 165.58L243.25 162.73L245.72 161.3L248.19 162.73ZM247.01 167.39L244.55 168.81L242.08 167.39L242.08 164.54L244.55 163.11L247.01 164.54ZM245.84 169.2L243.37 170.62L240.9 169.2L240.9 166.35L243.37 164.92L245.84 166.35ZM244.67 171.02L242.2 172.44L239.73 171.02L239.73 168.17L242.2 166.74L244.67 168.17ZM243.49 172.86L241.02 174.29L238.55 172.86L238.55 170.01L241.02 168.59L243.49 170.01ZM242.32 174.76L239.85 176.18L237.38 174.76L237.38 171.91L239.85 170.48L242.32 171.91ZM241.14 176.68L238.67 178.1L236.21 176.68L236.21 173.83L238.67 172.4L241.14 173.83ZM239.97 178.6L237.5 180.02L235.03 178.6L235.03 175.75L237.5 174.32L239.97 175.75ZM238.79 180.49L236.32 181.91L233.86 180.49L233.86 177.64L236.32 176.21L238.79 177.64ZM237.62 182.31L235.15 183.73L232.68 182.31L232.68 179.46L235.15 178.03L237.62 179.46ZM236.44 184.04L233.97 185.46L231.51 184.04L231.51 181.19L233.97 179.76L236.44 181.19ZM235.27 185.71L232.8 187.14L230.33 185.71L230.33 182.86L232.8 181.44L235.27 182.86ZM234.09 187.34L231.63 188.77L229.16 187.34L229.16 184.49L231.63 183.07L234.09 184.49ZM232.92 188.94L230.45 190.36L227.98 188.94L227.98 186.09L230.45 184.66L232.92 186.09ZM231.74 190.49L229.28 191.92L226.81 190.49L226.81 187.64L229.28 186.22L231.74 187.64ZM230.57 192.02L228.1 193.44L225.63 192.02L225.63 189.17L228.1 187.74L230.57 189.17ZM229.39 193.52L226.93 194.94L224.46 193.52L224.46 190.67L226.93 189.24L229.39 190.67ZM228.22 195.01L225.75 196.43L223.28 195.01L223.28 192.16L225.75 190.73L228.22 192.16ZM227.05 196.5L224.58 197.92L222.11 196.5L222.11 193.65L224.58 192.22L227.05 193.65ZM225.87 197.97L223.4 199.39L220.93 197.97L220.93 195.12L223.4 193.69L225.87 195.12ZM224.7 199.41L222.23 200.84L219.76 199.41L219.76 196.56L222.23 195.14L224.7 196.56ZM223.52 200.82L221.05 202.25L218.59 200.82L218.59 197.97L221.05 196.55L223.52 197.97ZM222.35 202.18L219.88 203.6L217.41 202.18L217.41 199.33L219.88 197.9L222.35 199.33ZM221.17 203.47L218.7 204.9L216.24 203.47L216.24 200.62L218.7 199.2L221.17 200.62ZM220 204.7L217.53 206.12L215.06 204.7L215.06 201.85L217.53 200.42L220 201.85ZM218.82 205.87L216.35 207.29L213.89 205.87L213.89 203.02L216.35 201.59L218.82 203.02ZM217.65 207.04L215.18 208.47L212.71 207.04L212.71 204.19L215.18 202.77L217.65 204.19ZM216.47 208.19L214.01 209.62L211.54 208.19L211.54 205.34L214.01 203.92L216.47 205.34ZM215.3 209.3L212.83 210.73L210.36 209.3L210.36 206.45L212.83 205.03L215.3 206.45ZM214.12 210.35L211.66 211.78L209.19 210.35L209.19 207.5L211.66 206.08L214.12 207.5ZM212.95 211.31L210.48 212.74L208.01 211.31L208.01 208.46L210.48 207.04L212.95 208.46ZM211.77 212.17L209.31 213.59L206.84 212.17L206.84 209.32L209.31 207.89L211.77 209.32ZM210.6 212.9L208.13 214.32L205.66 212.9L205.66 210.05L208.13 208.62L210.6 210.05ZM209.43 213.5L206.96 214.93L204.49 213.5L204.49 210.65L206.96 209.23L209.43 210.65ZM208.25 214.1L205.78 215.52L203.31 214.1L203.31 211.25L205.78 209.82L208.25 211.25ZM207.08 214.67L204.61 216.09L202.14 214.67L202.14 211.82L204.61 210.39L207.08 211.82ZM205.9 215.2L203.43 216.62L200.97 215.2L200.97 212.35L203.43 210.92L205.9 212.35ZM204.73 215.67L202.26 217.1L199.79 215.67L199.79 212.82L202.26 211.4L204.73 212.82ZM203.55 216.07L201.08 217.5L198.62 216.07L198.62 213.22L201.08 211.8L203.55 213.22ZM202.38 216.38L199.91 217.8L197.44 216.38L197.44 213.53L199.91 212.1L202.38 213.53ZM201.2 216.57L198.73 217.99L196.27 216.57L196.27 213.72L198.73 212.29L201.2 213.72ZM200.03 216.64L197.56 218.07L195.09 216.64L195.09 213.79L197.56 212.37L200.03 213.79ZM198.85 216.68L196.39 218.11L193.92 216.68L193.92 213.83L196.39 212.41L198.85 213.83ZM197.68 216.72L195.21 218.15L192.74 216.72L192.74 213.87L195.21 212.45L197.68 213.87ZM196.5 216.75L194.04 218.18L191.57 216.75L191.57 213.9L194.04 212.48L196.5 213.9ZM195.33 216.78L192.86 218.21L190.39 216.78L190.39 213.93L192.86 212.51L195.33 213.93ZM194.15 216.8L191.69 218.23L189.22 216.8L189.22 213.95L191.69 212.53L194.15 213.95ZM192.98 216.82L190.51 218.24L188.04 216.82L188.04 213.97L190.51 212.54L192.98 213.97ZM191.81 216.82L189.34 218.25L186.87 216.82L186.87 213.97L189.34 212.55L191.81 213.97ZM190.63 216.82L188.16 218.24L185.69 216.82L185.69 213.97L188.16 212.54L190.63 213.97ZM189.46 216.71L186.99 218.13L184.52 216.71L184.52 213.86L186.99 212.43L189.46 213.86ZM188.28 216.48L185.81 217.9L183.35 216.48L183.35 213.63L185.81 212.2L188.28 213.63ZM187.11 216.15L184.64 217.57L182.17 216.15L182.17 213.3L184.64 211.87L187.11 213.3ZM185.93 215.74L183.46 217.16L181 215.74L181 212.89L183.46 211.46L185.93 212.89ZM184.76 215.27L182.29 216.69L179.82 215.27L179.82 212.42L182.29 210.99L184.76 212.42ZM183.58 214.76L181.11 216.18L178.65 214.76L178.65 211.91L181.11 210.48L183.58 211.91ZM182.41 214.23L179.94 215.66L177.47 214.23L177.47 211.38L179.94 209.96L182.41 211.38ZM181.23 213.71L178.77 215.13L176.3 213.71L176.3 210.86L178.77 209.43L181.23 210.86ZM180.06 213.13L177.59 214.55L175.12 213.13L175.12 210.28L177.59 208.85L180.06 210.28ZM178.88 212.43L176.42 213.85L173.95 212.43L173.95 209.58L176.42 208.15L178.88 209.58ZM177.71 211.64L175.24 213.06L172.77 211.64L172.77 208.79L175.24 207.36L177.71 208.79ZM176.53 210.78L174.07 212.2L171.6 210.78L171.6 207.93L174.07 206.5L176.53 207.93ZM175.36 209.87L172.89 211.3L170.42 209.87L170.42 207.02L172.89 205.6L175.36 207.02ZM174.19 208.94L171.72 210.37L169.25 208.94L169.25 206.09L171.72 204.67L174.19 206.09ZM173.01 208.01L170.54 209.44L168.07 208.01L168.07 205.16L170.54 203.74L173.01 205.16ZM171.84 207.1L169.37 208.53L166.9 207.1L166.9 204.25L169.37 202.83L171.84 204.25ZM170.66 206.22L168.19 207.65L165.73 206.22L165.73 203.37L168.19 201.95L170.66 203.37ZM169.49 205.35L167.02 206.78L164.55 205.35L164.55 202.5L167.02 201.08L169.49 202.5ZM168.31 204.48L165.84 205.9L163.38 204.48L163.38 201.63L165.84 200.2L168.31 201.63ZM167.14 203.59L164.67 205.01L162.2 203.59L162.2 200.74L164.67 199.31L167.14 200.74ZM165.96 202.68L163.49 204.1L161.03 202.68L161.03 199.83L163.49 198.4L165.96 199.83ZM164.79 201.74L162.32 203.16L159.85 201.74L159.85 198.89L162.32 197.46L164.79 198.89ZM163.61 200.76L161.15 202.18L158.68 200.76L158.68 197.91L161.15 196.48L163.61 197.91ZM162.44 199.73L159.97 201.16L157.5 199.73L157.5 196.88L159.97 195.46L162.44 196.88ZM161.26 198.64L158.8 200.07L156.33 198.64L156.33 195.79L158.8 194.37L161.26 195.79ZM160.09 197.46L157.62 198.88L155.15 197.46L155.15 194.61L157.62 193.18L160.09 194.61ZM158.91 196.19L156.45 197.61L153.98 196.19L153.98 193.34L156.45 191.91L158.91 193.34ZM157.74 194.86L155.27 196.29L152.8 194.86L152.8 192.01L155.27 190.59L157.74 192.01ZM156.57 193.51L154.1 194.93L151.63 193.51L151.63 190.66L154.1 189.23L156.57 190.66ZM155.39 192.15L152.92 193.58L150.45 192.15L150.45 189.3L152.92 187.88L155.39 189.3ZM154.22 190.81L151.75 192.24L149.28 190.81L149.28 187.96L151.75 186.54L154.22 187.96ZM153.04 189.46L150.57 190.88L148.11 189.46L148.11 186.61L150.57 185.18L153.04 186.61ZM151.87 188.08L149.4 189.51L146.93 188.08L146.93 185.23L149.4 183.81L151.87 185.23ZM150.69 186.7L148.22 188.12L145.76 186.7L145.76 183.85L148.22 182.42L150.69 183.85ZM149.52 185.31L147.05 186.73L144.58 185.31L144.58 182.46L147.05 181.03L149.52 182.46ZM148.34 183.92L145.87 185.34L143.41 183.92L143.41 181.07L145.87 179.64L148.34 181.07ZM147.17 182.54L144.7 183.96L142.23 182.54L142.23 179.69L144.7 178.26L147.17 179.69ZM145.99 181.18L143.53 182.6L141.06 181.18L141.06 178.33L143.53 176.9L145.99 178.33ZM144.82 179.84L142.35 181.26L139.88 179.84L139.88 176.99L142.35 175.56L144.82 176.99ZM143.64 178.5L141.18 179.93L138.71 178.5L138.71 175.65L141.18 174.23L143.64 175.65ZM142.47 177.16L140 178.59L137.53 177.16L137.53 174.31L140 172.89L142.47 174.31ZM141.29 175.81L138.83 177.23L136.36 175.81L136.36 172.96L138.83 171.53L141.29 172.96ZM140.12 174.43L137.65 175.86L135.18 174.43L135.18 171.58L137.65 170.16L140.12 171.58ZM138.95 173.06L136.48 174.48L134.01 173.06L134.01 170.21L136.48 168.78L138.95 170.21ZM137.77 171.66L135.3 173.09L132.83 171.66L132.83 168.81L135.3 167.39L137.77 168.81ZM136.6 170.22L134.13 171.65L131.66 170.22L131.66 167.37L134.13 165.95L136.6 167.37ZM135.42 168.71L132.95 170.13L130.49 168.71L130.49 165.86L132.95 164.43L135.42 165.86ZM134.25 167.1L131.78 168.53L129.31 167.1L129.31 164.25L131.78 162.83L134.25 164.25ZM133.07 165.46L130.6 166.88L128.14 165.46L128.14 162.61L130.6 161.18L133.07 162.61ZM131.9 163.83L129.43 165.25L126.96 163.83L126.96 160.98L129.43 159.55L131.9 160.98ZM130.72 162.27L128.25 163.7L125.79 162.27L125.79 159.42L128.25 158L130.72 159.42ZM129.55 160.74L127.08 162.17L124.61 160.74L124.61 157.89L127.08 156.47L129.55 157.89ZM128.37 159.15L125.91 160.58L123.44 159.15L123.44 156.3L125.91 154.88L128.37 156.3ZM127.2 157.41L124.73 158.83L122.26 157.41L122.26 154.56L124.73 153.13L127.2 154.56ZM126.02 155.43L123.56 156.86L121.09 155.43L121.09 152.58L123.56 151.16L126.02 152.58ZM124.85 153.31L122.38 154.74L119.91 153.31L119.91 150.46L122.38 149.04L124.85 150.46ZM123.67 151.17L121.21 152.6L118.74 151.17L118.74 148.32L121.21 146.9L123.67 148.32ZM122.5 149.11L120.03 150.53L117.56 149.11L117.56 146.26L120.03 144.83L122.5 146.26ZM121.33 146.99L118.86 148.42L116.39 146.99L116.39 144.14L118.86 142.72L121.33 144.14ZM120.15 144.91L117.68 146.33L115.21 144.91L115.21 142.06L117.68 140.63L120.15 142.06ZM118.98 142.97L116.51 144.39L114.04 142.97L114.04 140.12L116.51 138.69L118.98 140.12ZM117.8 141.3L115.33 142.72L112.87 141.3L112.87 138.45L115.33 137.02L117.8 138.45ZM116.63 139.85L114.16 141.28L111.69 139.85L111.69 137L114.16 135.58L116.63 137ZM115.45 138.52L112.98 139.95L110.52 138.52L110.52 135.67L112.98 134.25L115.45 135.67ZM114.28 137.21L111.81 138.64L109.34 137.21L109.34 134.36L111.81 132.94L114.28 134.36ZM113.1 135.95L110.63 137.37L108.17 135.95L108.17 133.1L110.63 131.67L113.1 133.1ZM111.93 134.71L109.46 136.14L106.99 134.71L106.99 131.86L109.46 130.44L111.93 131.86ZM110.75 133.44L108.29 134.86L105.82 133.44L105.82 130.59L108.29 129.16L110.75 130.59ZM109.58 132.05L107.11 133.48L104.64 132.05L104.64 129.2L107.11 127.78L109.58 129.2ZM108.4 130.58L105.94 132.01L103.47 130.58L103.47 127.73L105.94 126.31L108.4 127.73ZM107.23 129.09L104.76 130.52L102.29 129.09L102.29 126.24L104.76 124.82L107.23 126.24ZM106.05 127.63L103.59 129.05L101.12 127.63L101.12 124.78L103.59 123.35L106.05 124.78ZM104.88 126.23L102.41 127.66L99.94 126.23L99.94 123.38L102.41 121.96L104.88 123.38ZM103.71 124.84L101.24 126.26L98.77 124.84L98.77 121.99L101.24 120.56L103.71 121.99ZM102.53 123.47L100.06 124.89L97.59 123.47L97.59 120.62L100.06 119.19L102.53 120.62ZM101.36 122.15L98.89 123.57L96.42 122.15L96.42 119.3L98.89 117.87L101.36 119.3ZM100.18 120.92L97.71 122.34L95.25 120.92L95.25 118.07L97.71 116.64L100.18 118.07ZM99.01 119.8L96.54 121.22L94.07 119.8L94.07 116.95L96.54 115.52L99.01 116.95ZM97.83 118.74L95.36 120.16L92.9 118.74L92.9 115.89L95.36 114.46L97.83 115.89ZM96.66 117.73L94.19 119.15L91.72 117.73L91.72 114.88L94.19 113.45L96.66 114.88ZM95.48 116.78L93.01 118.21L90.55 116.78L90.55 113.93L93.01 112.51L95.48 113.93ZM94.31 115.91L91.84 117.34L89.37 115.91L89.37 113.06L91.84 111.64L94.31 113.06ZM93.13 115.13L90.67 116.55L88.2 115.13L88.2 112.28L90.67 110.85L93.13 112.28ZM91.96 114.43L89.49 115.85L87.02 114.43L87.02 111.58L89.49 110.15L91.96 111.58ZM90.78 113.79L88.32 115.21L85.85 113.79L85.85 110.94L88.32 109.51L90.78 110.94ZM89.61 113.2L87.14 114.63L84.67 113.2L84.67 110.35L87.14 108.93L89.61 110.35ZM88.43 112.65L85.97 114.08L83.5 112.65L83.5 109.8L85.97 108.38L88.43 109.8ZM87.26 112.13L84.79 113.55L82.32 112.13L82.32 109.28L84.79 107.85L87.26 109.28ZM86.09 111.62L83.62 113.04L81.15 111.62L81.15 108.77L83.62 107.34L86.09 108.77ZM84.91 111.1L82.44 112.53L79.97 111.1L79.97 108.25L82.44 106.83L84.91 108.25ZM83.74 110.58L81.27 112.01L78.8 110.58L78.8 107.73L81.27 106.31L83.74 107.73ZM82.56 110.03L80.09 111.46L77.63 110.03L77.63 107.18L80.09 105.76L82.56 107.18ZM81.39 109.45L78.92 110.87L76.45 109.45L76.45 106.6L78.92 105.17L81.39 106.6ZM80.21 108.83L77.74 110.25L75.28 108.83L75.28 105.98L77.74 104.55L80.21 105.98ZM79.04 108.23L76.57 109.66L74.1 108.23L74.1 105.38L76.57 103.96L79.04 105.38ZM77.86 107.62L75.39 109.04L72.93 107.62L72.93 104.77L75.39 103.34L77.86 104.77ZM76.69 106.95L74.22 108.38L71.75 106.95L71.75 104.1L74.22 102.68L76.69 104.1ZM75.51 106.2L73.05 107.63L70.58 106.2L70.58 103.35L73.05 101.93L75.51 103.35ZM74.34 105.32L71.87 106.75L69.4 105.32L69.4 102.47L71.87 101.05L74.34 102.47Z" fill="#fff"/><path d="M411.47 87.63L409 89.05M409 89.05L408.51 88.77M408.51 83.64L409 83.35M409 83.35L411.47 84.78M411.47 84.78L411.47 87.63M410.29 87.63L407.83 89.05M407.83 89.05L407.33 88.77M407.33 83.64L407.83 83.35M407.83 83.35L410.29 84.78M410.29 84.78L410.29 87.63M409.12 87.63L406.65 89.05M406.65 89.05L406.16 88.77M406.16 83.64L406.65 83.35M406.65 83.35L409.12 84.78M409.12 84.78L409.12 87.63M407.94 87.64L405.48 89.06M405.48 89.06L404.98 88.78M404.98 83.65L405.48 83.36M405.48 83.36L407.94 84.79M407.94 84.79L407.94 87.64M406.77 87.65L404.3 89.07M404.3 89.07L403.81 88.79M403.81 83.66L404.3 83.37M404.3 83.37L406.77 84.8M406.77 84.8L406.77 87.65M405.59 87.66L403.13 89.08M403.13 89.08L402.63 88.8M402.63 83.67L403.13 83.38M403.13 83.38L405.59 84.81M405.59 84.81L405.59 87.66M404.42 87.67L401.95 89.1M401.95 89.1L401.46 88.81M401.46 83.68L401.95 83.4M401.95 83.4L404.42 84.82M404.42 84.82L404.42 87.67M403.25 87.69L400.78 89.12M400.78 89.12L400.28 88.83M400.28 83.7L400.78 83.42M400.78 83.42L403.25 84.84M403.25 84.84L403.25 87.69M402.07 87.71L399.6 89.14M399.6 89.14L399.11 88.85M399.11 83.72L399.6 83.44M399.6 83.44L402.07 84.86M402.07 84.86L402.07 87.71M400.9 87.73L398.43 89.16M398.43 89.16L397.93 88.87M397.93 83.74L398.43 83.46M398.43 83.46L400.9 84.88M400.9 84.88L400.9 87.73M399.72 87.76L397.25 89.18M397.25 89.18L396.76 88.9M396.76 83.77L397.25 83.48M397.25 83.48L399.72 84.91M399.72 84.91L399.72 87.76M398.55 87.78L396.08 89.21M396.08 89.21L395.59 88.92M395.59 83.79L396.08 83.51M396.08 83.51L398.55 84.93M398.55 84.93L398.55 87.78M397.37 87.81L394.9 89.23M394.9 89.23L394.41 88.95M394.41 83.82L394.9 83.53M394.9 83.53L397.37 84.96M397.37 84.96L397.37 87.81M396.2 87.84L393.73 89.26M393.73 89.26L393.24 88.98M393.24 83.85L393.73 83.56M393.73 83.56L396.2 84.99M396.2 84.99L396.2 87.84M395.02 87.86L392.55 89.29M392.55 89.29L392.06 89M392.06 83.87L392.55 83.59M392.55 83.59L395.02 85.01M395.02 85.01L395.02 87.86M393.85 87.89L391.38 89.32M391.38 89.32L390.89 89.03M390.89 83.9L391.38 83.62M391.38 83.62L393.85 85.04M393.85 85.04L393.85 87.89M392.67 87.92L390.21 89.35M390.21 89.35L389.71 89.06M389.71 83.93L390.21 83.65M390.21 83.65L392.67 85.07M392.67 85.07L392.67 87.92M391.5 87.95L389.03 89.37M389.03 89.37L388.54 89.09M388.54 83.96L389.03 83.67M389.03 83.67L391.5 85.1M391.5 85.1L391.5 87.95M390.32 87.98L387.86 89.41M387.86 89.41L387.36 89.12M387.12 84.13L387.86 83.71M387.86 83.71L390.32 85.13M390.32 85.13L390.32 87.98M389.15 88.02L386.68 89.44M386.68 89.44L386.19 89.16M385.94 84.17L386.68 83.74M386.68 83.74L389.15 85.17M389.15 85.17L389.15 88.02M387.97 88.06L385.51 89.48M385.51 89.48L385.01 89.2M384.77 84.21L385.51 83.78M385.51 83.78L387.97 85.21M387.97 85.21L387.97 88.06M386.8 88.1L384.33 89.52M384.33 89.52L383.84 89.24M383.59 84.25L384.33 83.82M384.33 83.82L386.8 85.25M386.8 85.25L386.8 88.1M385.63 88.15L383.16 89.57M383.16 89.57L382.66 89.29M382.42 84.3L383.16 83.87M383.16 83.87L385.63 85.3M385.63 85.3L385.63 88.15M384.45 88.2L381.98 89.62M381.98 89.62L381.49 89.34M381.24 84.35L381.98 83.92M381.98 83.92L384.45 85.35M384.45 85.35L384.45 88.2M383.28 88.25L380.81 89.67M380.81 89.67L380.31 89.39M380.07 84.4L380.81 83.97M380.81 83.97L383.28 85.4M383.28 85.4L383.28 88.25M382.1 88.31L379.63 89.73M379.63 89.73L379.14 89.45M378.89 84.46L379.63 84.03M379.63 84.03L382.1 85.46M382.1 85.46L382.1 88.31M380.93 88.37L378.46 89.79M378.46 89.79L377.97 89.51M377.72 84.52L378.46 84.09M378.46 84.09L380.93 85.52M380.93 85.52L380.93 88.37M379.75 88.43L377.28 89.86M377.28 89.86L376.79 89.57M376.54 84.58L377.28 84.16M377.28 84.16L379.75 85.58M379.75 85.58L379.75 88.43M378.58 88.5L376.11 89.92M376.11 89.92L375.62 89.64M375.37 84.65L376.11 84.22M376.11 84.22L378.58 85.65M378.58 85.65L378.58 88.5M377.4 88.57L374.93 90M374.93 90L374.44 89.71M374.19 84.72L374.93 84.3M374.93 84.3L377.4 85.72M377.4 85.72L377.4 88.57M376.23 88.65L373.76 90.07M373.76 90.07L373.27 89.79M373.02 84.8L373.76 84.37M373.76 84.37L376.23 85.8M376.23 85.8L376.23 88.65M375.05 88.73L372.59 90.16M372.59 90.16L372.09 89.87M371.84 84.88L372.59 84.46M372.59 84.46L375.05 85.88M375.05 85.88L375.05 88.73M373.88 88.82L371.41 90.24M371.41 90.24L370.92 89.96M370.67 84.97L371.41 84.54M371.41 84.54L373.88 85.97M373.88 85.97L373.88 88.82M372.7 88.91L370.24 90.33M370.24 90.33L369.74 90.05M369.5 85.06L370.24 84.63M370.24 84.63L372.7 86.06M372.7 86.06L372.7 88.91M371.53 89.01L369.06 90.44M369.06 90.44L368.57 90.15M368.32 85.17L369.06 84.74M369.06 84.74L371.53 86.16M371.53 86.16L371.53 89.01M370.35 89.16L367.89 90.58M367.89 90.58L367.39 90.3M367.15 85.31L367.89 84.88M367.89 84.88L370.35 86.31M370.35 86.31L370.35 89.16M369.18 89.34L366.71 90.76M366.71 90.76L366.22 90.48M365.97 85.49L366.71 85.06M366.71 85.06L369.18 86.49M369.18 86.49L369.18 89.34M368.01 89.53L365.54 90.96M365.54 90.96L365.04 90.67M364.8 85.68L365.54 85.26M365.54 85.26L368.01 86.68M368.01 86.68L368.01 89.53M366.83 89.74L364.36 91.16M364.36 91.16L363.87 90.88M363.62 85.89L364.36 85.46M364.36 85.46L366.83 86.89M366.83 86.89L366.83 89.74M365.66 89.94L363.19 91.37M363.19 91.37L362.69 91.08M362.45 86.09L363.19 85.67M363.19 85.67L365.66 87.09M365.66 87.09L365.66 89.94M364.48 90.14L362.01 91.56M362.01 91.56L361.52 91.28M361.27 86.29L362.01 85.86M362.01 85.86L364.48 87.29M364.48 87.29L364.48 90.14M363.31 90.32L360.84 91.74M360.84 91.74L360.35 91.46M360.1 86.47L360.84 86.04M360.84 86.04L363.31 87.47M363.31 87.47L363.31 90.32M362.13 90.47L359.66 91.89M359.66 91.89L359.17 91.61M358.92 86.62L359.66 86.19M359.66 86.19L362.13 87.62M362.13 87.62L362.13 90.47M360.96 90.61L358.49 92.03M358.49 92.03L358 91.75M357.75 86.76L358.49 86.33M358.49 86.33L360.96 87.76M360.96 87.76L360.96 90.61M359.78 90.74L357.31 92.17M357.31 92.17L356.82 91.88M356.57 86.9L357.31 86.47M357.31 86.47L359.78 87.89M359.78 87.89L359.78 90.74M358.61 90.88L356.14 92.3M356.14 92.3L355.65 92.02M355.4 87.03L356.14 86.6M356.14 86.6L358.61 88.03M358.61 88.03L358.61 90.88M357.43 91L354.97 92.43M354.97 92.43L354.47 92.14M354.22 87.15L354.97 86.73M354.97 86.73L357.43 88.15M357.43 88.15L357.43 91M356.26 91.12L353.79 92.55M353.79 92.55L353.3 92.26M353.05 87.27L353.79 86.85M353.79 86.85L356.26 88.27M356.26 88.27L356.26 91.12M355.08 91.23L352.62 92.65M352.62 92.65L352.12 92.37M351.88 87.38L352.62 86.95M352.62 86.95L355.08 88.38M355.08 88.38L355.08 91.23M353.91 91.33L351.44 92.75M351.44 92.75L350.95 92.47M350.7 87.48L351.44 87.05M351.44 87.05L353.91 88.48M353.91 88.48L353.91 91.33M352.73 91.41L350.27 92.83M350.27 92.83L349.77 92.55M349.53 87.56L350.27 87.13M350.27 87.13L352.73 88.56M352.73 88.56L352.73 91.41M351.56 91.48L349.09 92.9M349.09 92.9L348.6 92.62M348.35 87.63L349.09 87.2M349.09 87.2L351.56 88.63M351.56 88.63L351.56 91.48M350.39 91.53L347.92 92.96M347.92 92.96L347.42 92.67M347.18 87.69L347.92 87.26M347.92 87.26L350.39 88.68M350.39 88.68L350.39 91.53M349.21 91.58L346.74 93.01M346.74 93.01L346.25 92.72M346 87.73L346.74 87.31M346.74 87.31L349.21 88.73M349.21 88.73L349.21 91.58M348.04 91.62L345.57 93.05M345.57 93.05L345.07 92.76M344.83 87.78L345.57 87.35M345.57 87.35L348.04 88.77M348.04 88.77L348.04 91.62M346.86 91.66L344.39 93.09M344.39 93.09L343.9 92.8M343.65 87.82L344.39 87.39M344.39 87.39L346.86 88.81M346.86 88.81L346.86 91.66M345.69 91.7L343.22 93.13M343.22 93.13L342.73 92.84M342.48 87.86L343.22 87.43M343.22 87.43L345.69 88.85M345.69 88.85L345.69 91.7M344.51 91.75L342.04 93.17M342.04 93.17L341.55 92.89M341.3 87.9L342.04 87.47M342.04 87.47L344.51 88.9M344.51 88.9L344.51 91.75M343.34 91.8L340.87 93.22M340.87 93.22L340.38 92.94M340.13 87.95L340.87 87.52M340.87 87.52L343.34 88.95M343.34 88.95L343.34 91.8M342.16 91.85L339.69 93.28M339.69 93.28L339.2 92.99M338.95 88.01L339.69 87.58M339.69 87.58L342.16 89M342.16 89L342.16 91.85M340.99 91.92L338.52 93.35M338.52 93.35L338.03 93.06M337.78 88.08L338.52 87.65M338.52 87.65L340.99 89.07M340.99 89.07L340.99 91.92M339.81 92.01L337.35 93.44M337.35 93.44L336.85 93.15M336.6 88.16L337.35 87.74M337.35 87.74L339.81 89.16M339.81 89.16L339.81 92.01M338.64 92.12L336.17 93.54M336.17 93.54L335.68 93.26M335.43 88.27L336.17 87.84M336.17 87.84L338.64 89.27M338.64 89.27L338.64 92.12M337.46 92.24L335 93.67M335 93.67L334.5 93.38M334.26 88.39L335 87.97M335 87.97L337.46 89.39M337.46 89.39L337.46 92.24M336.29 92.38L333.82 93.81M333.82 93.81L333.33 93.52M333.08 88.53L333.82 88.11M333.82 88.11L336.29 89.53M336.29 89.53L336.29 92.38M335.11 92.54L332.65 93.96M332.65 93.96L332.15 93.68M331.91 88.69L332.65 88.26M332.65 88.26L335.11 89.69M335.11 89.69L335.11 92.54M333.94 92.7L331.47 94.13M331.47 94.13L330.98 93.84M330.73 88.86L331.47 88.43M331.47 88.43L333.94 89.85M333.94 89.85L333.94 92.7M332.77 92.88L330.3 94.31M330.3 94.31L329.8 94.02M329.56 89.04L330.3 88.61M330.3 88.61L332.77 90.03M332.77 90.03L332.77 92.88M331.59 93.07L329.12 94.49M329.12 94.49L328.63 94.21M328.38 89.22L329.12 88.79M329.12 88.79L331.59 90.22M331.59 90.22L331.59 93.07M330.42 93.26L327.95 94.69M327.95 94.69L327.45 94.4M327.21 89.42L327.95 88.99M327.95 88.99L330.42 90.41M330.42 90.41L330.42 93.26M329.24 93.46L326.77 94.89M326.77 94.89L326.28 94.6M326.03 89.62L326.77 89.19M326.77 89.19L329.24 90.61M329.24 90.61L329.24 93.46M328.07 93.69L325.6 95.11M325.6 95.11L325.35 94.97M324.86 89.84L325.6 89.41M325.6 89.41L328.07 90.84M328.07 90.84L328.07 93.69M326.89 93.94L324.42 95.37M324.42 95.37L324.18 95.22M323.68 90.09L324.42 89.67M324.42 89.67L326.89 91.09M326.89 91.09L326.89 93.94M325.72 94.22L323.25 95.64M323.25 95.64L323 95.5M322.51 90.37L323.25 89.94M323.25 89.94L325.72 91.37M325.72 91.37L325.72 94.22M324.54 94.52L322.07 95.94M322.07 95.94L321.83 95.8M321.33 90.67L322.07 90.24M322.07 90.24L324.54 91.67M324.54 91.67L324.54 94.52M323.37 94.83L320.9 96.25M320.9 96.25L320.65 96.11M319.91 91.12L320.9 90.55M320.9 90.55L323.37 91.98M323.37 91.98L323.37 94.83M322.19 95.15L319.73 96.57M319.73 96.57L319.48 96.43M318.74 91.44L319.73 90.87M319.73 90.87L322.19 92.3M322.19 92.3L322.19 95.15M321.02 95.47L318.55 96.9M318.55 96.9L318.3 96.75M317.56 91.77L318.55 91.2M318.55 91.2L321.02 92.62M321.02 92.62L321.02 95.47M319.84 95.79L317.38 97.22M317.38 97.22L317.13 97.08M316.64 91.95L317.38 91.52M317.38 91.52L319.84 92.94M319.84 92.94L319.84 95.79M318.67 96.11L316.2 97.54M316.2 97.54L315.95 97.39M315.46 92.26L316.2 91.84M316.2 91.84L318.67 93.26M318.67 93.26L318.67 96.11M317.49 96.42L315.03 97.84M315.03 97.84L314.78 97.7M314.29 92.57L315.03 92.14M315.03 92.14L317.49 93.57M317.49 93.57L317.49 96.42M316.32 96.7L313.85 98.13M313.85 98.13L313.61 97.99M313.11 92.86L313.85 92.43M313.85 92.43L316.32 93.85M316.32 93.85L316.32 96.7M315.15 96.98L312.68 98.4M312.68 98.4L312.43 98.26M311.94 93.13L312.68 92.7M312.68 92.7L315.15 94.13M315.15 94.13L315.15 96.98M313.97 97.26L311.5 98.68M311.5 98.68L311.26 98.54M310.76 93.41L311.5 92.98M311.5 92.98L313.97 94.41M313.97 94.41L313.97 97.26M312.8 97.57L310.33 99M310.33 99L310.08 98.86M309.34 93.87L310.33 93.3M310.33 93.3L312.8 94.72M312.8 94.72L312.8 97.57M311.62 97.94L309.15 99.37M309.15 99.37L308.91 99.22M308.17 94.24L309.15 93.67M309.15 93.67L311.62 95.09M311.62 95.09L311.62 97.94M310.45 98.39L307.98 99.81M307.98 99.81L307.73 99.67M306.99 94.68L307.98 94.11M307.98 94.11L310.45 95.54M310.45 95.54L310.45 98.39M309.27 98.92L306.8 100.34M305.82 95.21L306.8 94.64M306.8 94.64L309.27 96.07M309.27 96.07L309.27 98.92M308.1 99.51L305.63 100.94M304.4 95.95L305.63 95.24M305.63 95.24L308.1 96.66M308.1 96.66L308.1 99.51M306.92 100.16L305.69 100.88M301.99 97.31L304.45 95.89M304.45 95.89L306.92 97.31M306.92 97.31L306.92 100.16M305.75 100.86L304.51 101.57M300.81 98.3L300.81 98.01M300.81 98.01L303.28 96.59M303.28 96.59L305.75 98.01M305.75 98.01L305.75 100.86M304.57 101.7L303.34 102.41M299.64 99.13L299.64 98.85M299.64 98.85L302.11 97.42M302.11 97.42L304.57 98.85M304.57 98.85L304.57 101.7M303.4 102.66L302.16 103.37M298.46 100.1L298.46 99.81M298.46 99.81L300.93 98.39M300.93 98.39L303.4 99.81M303.4 99.81L303.4 102.66M302.22 103.66L300.99 104.37M297.29 101.09L297.29 100.81M297.29 100.81L299.76 99.38M299.76 99.38L302.22 100.81M302.22 100.81L302.22 103.66M301.05 104.6L299.82 105.32M296.11 101.75L298.58 100.33M298.58 100.33L301.05 101.75M301.05 101.75L301.05 104.6M299.87 105.41L298.64 106.12M295.19 102.42L297.41 101.14M297.41 101.14L299.87 102.56M299.87 102.56L299.87 105.41M298.7 106.09L296.23 107.52M295 102.53L296.23 101.82M296.23 101.82L298.7 103.24M298.7 103.24L298.7 106.09M297.53 106.7L295.06 108.12M294.07 102.99L295.06 102.42M295.06 102.42L297.53 103.85M297.53 103.85L297.53 106.7M296.35 107.27L293.88 108.7M292.9 103.57L293.88 103M293.88 103L296.35 104.42M296.35 104.42L296.35 107.27M295.18 107.85L292.71 109.28M291.47 104.29L292.71 103.58M292.71 103.58L295.18 105M295.18 105L295.18 107.85M294 108.48L292.77 109.19M289.07 105.63L291.53 104.2M291.53 104.2L294 105.63M294 105.63L294 108.48M292.83 109.19L291.59 109.9M287.89 106.62L287.89 106.34M287.89 106.34L290.36 104.91M290.36 104.91L292.83 106.34M292.83 106.34L292.83 109.19M291.65 110.01L290.42 110.73M286.72 107.45L286.72 107.16M286.72 107.16L289.18 105.74M289.18 105.74L291.65 107.16M291.65 107.16L291.65 110.01M290.48 110.96L289.24 111.68M285.54 108.4L285.54 108.11M285.54 108.11L288.01 106.69M288.01 106.69L290.48 108.11M290.48 108.11L290.48 110.96M289.3 112.01L288.07 112.72M284.37 109.73L284.37 109.16M284.37 109.16L286.83 107.73M286.83 107.73L289.3 109.16M289.3 109.16L289.3 112.01M288.13 113.12L286.89 113.83M283.19 110.84L283.19 110.27M283.19 110.27L285.66 108.84M285.66 108.84L288.13 110.27M288.13 110.27L288.13 113.12M286.95 114.27L285.72 114.98M282.02 111.99L282.02 111.42M282.02 111.42L284.49 109.99M284.49 109.99L286.95 111.42M286.95 111.42L286.95 114.27M285.78 115.43L284.54 116.15M280.84 113.15L280.84 112.58M280.84 112.58L283.31 111.16M283.31 111.16L285.78 112.58M285.78 112.58L285.78 115.43M284.6 116.58L283.37 117.3M279.67 114.3L279.67 113.73M279.67 113.73L282.14 112.31M282.14 112.31L284.6 113.73M284.6 113.73L284.6 116.58M283.43 117.73L282.2 118.44M278.49 115.45L278.49 114.88M278.49 114.88L280.96 113.46M280.96 113.46L283.43 114.88M283.43 114.88L283.43 117.73M282.25 118.9L281.02 119.61M277.32 116.62L277.32 116.05M277.32 116.05L279.79 114.62M279.79 114.62L282.25 116.05M282.25 116.05L282.25 118.9M281.08 120.09L279.85 120.8M276.14 117.81L276.14 117.24M276.14 117.24L278.61 115.81M278.61 115.81L281.08 117.24M281.08 117.24L281.08 120.09M279.91 121.31L278.67 122.02M274.97 119.03L274.97 118.46M274.97 118.46L277.44 117.04M277.44 117.04L279.91 118.46M279.91 118.46L279.91 121.31M278.73 122.57L277.5 123.28M273.79 120.29L273.79 119.72M273.79 119.72L276.26 118.29M276.26 118.29L278.73 119.72M278.73 119.72L278.73 122.57M277.56 123.87L276.32 124.58M272.62 121.59L272.62 121.02M272.62 121.02L275.09 119.6M275.09 119.6L277.56 121.02M277.56 121.02L277.56 123.87M276.38 125.22L275.15 125.94M271.45 123.23L271.45 122.37M271.45 122.37L273.91 120.95M273.91 120.95L276.38 122.37M276.38 122.37L276.38 125.22M275.21 126.65L273.97 127.36M270.27 124.65L270.27 123.8M270.27 123.8L272.74 122.37M272.74 122.37L275.21 123.8M275.21 123.8L275.21 126.65M274.03 128.13L272.8 128.84M269.1 126.13L269.1 125.28M269.1 125.28L271.56 123.85M271.56 123.85L274.03 125.28M274.03 125.28L274.03 128.13M272.86 129.65L271.62 130.36M267.92 127.65L267.92 126.8M267.92 126.8L270.39 125.37M270.39 125.37L272.86 126.8M272.86 126.8L272.86 129.65M271.68 131.19L270.45 131.91M266.75 129.2L266.75 128.34M266.75 128.34L269.21 126.92M269.21 126.92L271.68 128.34M271.68 128.34L271.68 131.19M270.51 132.75L269.27 133.46M265.57 130.76L265.57 129.9M265.57 129.9L268.04 128.48M268.04 128.48L270.51 129.9M270.51 129.9L270.51 132.75M269.33 134.3L268.1 135.01M264.4 132.31L264.4 131.45M264.4 131.45L266.87 130.03M266.87 130.03L269.33 131.45M269.33 131.45L269.33 134.3M268.16 135.84L266.92 136.55M263.22 133.84L263.22 132.99M263.22 132.99L265.69 131.56M265.69 131.56L268.16 132.99M268.16 132.99L268.16 135.84M266.98 137.36L265.75 138.08M262.05 135.37L262.05 134.51M262.05 134.51L264.52 133.09M264.52 133.09L266.98 134.51M266.98 134.51L266.98 137.36M265.81 138.9L264.58 139.62M260.87 136.91L260.87 136.05M260.87 136.05L263.34 134.63M263.34 134.63L265.81 136.05M265.81 136.05L265.81 138.9M264.63 140.48L263.4 141.19M259.7 138.48L259.7 137.63M259.7 137.63L262.17 136.2M262.17 136.2L264.63 137.63M264.63 137.63L264.63 140.48M263.46 142.1L262.23 142.82M258.52 140.39L258.52 139.25M258.52 139.25L260.99 137.83M260.99 137.83L263.46 139.25M263.46 139.25L263.46 142.1M262.29 143.8L261.05 144.51M257.35 142.09L257.35 140.95M257.35 140.95L259.82 139.52M259.82 139.52L262.29 140.95M262.29 140.95L262.29 143.8M261.11 145.61L259.88 146.32M256.17 144.19L256.17 142.76M256.17 142.76L258.64 141.34M258.64 141.34L261.11 142.76M261.11 142.76L261.11 145.61M259.94 147.64L258.7 148.35M255 146.21L255 144.79M255 144.79L257.47 143.36M257.47 143.36L259.94 144.79M259.94 144.79L259.94 147.64M258.76 149.65L257.53 150.36M253.83 147.94L253.83 146.8M253.83 146.8L256.29 145.37M256.29 145.37L258.76 146.8M258.76 146.8L258.76 149.65M257.59 151.41L256.35 152.12M252.65 149.42L252.65 148.56M252.65 148.56L255.12 147.14M255.12 147.14L257.59 148.56M257.59 148.56L257.59 151.41M256.41 152.98L255.18 153.7M251.48 150.99L251.48 150.13M251.48 150.13L253.94 148.71M253.94 148.71L256.41 150.13M256.41 150.13L256.41 152.98M255.24 154.54L254 155.25M250.3 152.83L250.3 151.69M250.3 151.69L252.77 150.26M252.77 150.26L255.24 151.69M255.24 151.69L255.24 154.54M254.06 156.23L252.83 156.95M249.13 154.52L249.13 153.38M249.13 153.38L251.59 151.96M251.59 151.96L254.06 153.38M254.06 153.38L254.06 156.23M252.89 158.09L251.65 158.8M247.95 156.38L247.95 155.24M247.95 155.24L250.42 153.81M250.42 153.81L252.89 155.24M252.89 155.24L252.89 158.09M251.71 160.01L250.48 160.72M246.78 158.3L246.78 157.16M246.78 157.16L249.25 155.74M249.25 155.74L251.71 157.16M251.71 157.16L251.71 160.01M250.54 161.91L249.3 162.63M245.6 160.2L245.6 159.06M245.6 159.06L248.07 157.64M248.07 157.64L250.54 159.06M250.54 159.06L250.54 161.91M249.36 163.75L248.13 164.47M244.43 162.04L244.43 160.9M244.43 160.9L246.9 159.48M246.9 159.48L249.36 160.9M249.36 160.9L249.36 163.75M248.19 165.58L246.96 166.29M243.25 163.87L243.25 162.73M243.25 162.73L245.72 161.3M245.72 161.3L248.19 162.73M248.19 162.73L248.19 165.58M247.01 167.39L245.78 168.1M242.08 165.68L242.08 164.54M242.08 164.54L244.55 163.11M244.55 163.11L247.01 164.54M247.01 164.54L247.01 167.39M245.84 169.2L244.61 169.91M240.9 167.49L240.9 166.35M240.9 166.35L243.37 164.92M243.37 164.92L245.84 166.35M245.84 166.35L245.84 169.2M244.67 171.02L243.43 171.73M239.73 169.31L239.73 168.17M239.73 168.17L242.2 166.74M242.2 166.74L244.67 168.17M244.67 168.17L244.67 171.02M243.49 172.86L242.26 173.58M238.55 171.15L238.55 170.01M238.55 170.01L241.02 168.59M241.02 168.59L243.49 170.01M243.49 170.01L243.49 172.86M242.32 174.76L241.08 175.47M237.38 173.05L237.38 171.91M237.38 171.91L239.85 170.48M239.85 170.48L242.32 171.91M242.32 171.91L242.32 174.76M241.14 176.68L239.91 177.39M236.21 174.97L236.21 173.83M236.21 173.83L238.67 172.4M238.67 172.4L241.14 173.83M241.14 173.83L241.14 176.68M239.97 178.6L238.73 179.31M235.03 176.89L235.03 175.75M235.03 175.75L237.5 174.32M237.5 174.32L239.97 175.75M239.97 175.75L239.97 178.6M238.79 180.49L237.56 181.2M233.86 178.78L233.86 177.64M233.86 177.64L236.32 176.21M236.32 176.21L238.79 177.64M238.79 177.64L238.79 180.49M237.62 182.31L236.38 183.02M232.68 180.6L232.68 179.46M232.68 179.46L235.15 178.03M235.15 178.03L237.62 179.46M237.62 179.46L237.62 182.31M236.44 184.04L235.21 184.75M231.51 182.04L231.51 181.19M231.51 181.19L233.97 179.76M233.97 179.76L236.44 181.19M236.44 181.19L236.44 184.04M235.27 185.71L234.03 186.42M230.33 183.72L230.33 182.86M230.33 182.86L232.8 181.44M232.8 181.44L235.27 182.86M235.27 182.86L235.27 185.71M234.09 187.34L232.86 188.06M229.16 185.35L229.16 184.49M229.16 184.49L231.63 183.07M231.63 183.07L234.09 184.49M234.09 184.49L234.09 187.34M232.92 188.94L231.68 189.65M227.98 186.94L227.98 186.09M227.98 186.09L230.45 184.66M230.45 184.66L232.92 186.09M232.92 186.09L232.92 188.94M231.74 190.49L230.51 191.2M226.81 188.5L226.81 187.64M226.81 187.64L229.28 186.22M229.28 186.22L231.74 187.64M231.74 187.64L231.74 190.49M230.57 192.02L229.34 192.73M225.63 190.02L225.63 189.17M225.63 189.17L228.1 187.74M228.1 187.74L230.57 189.17M230.57 189.17L230.57 192.02M229.39 193.52L228.16 194.23M224.46 191.52L224.46 190.67M224.46 190.67L226.93 189.24M226.93 189.24L229.39 190.67M229.39 190.67L229.39 193.52M228.22 195.01L226.99 195.72M223.28 193.01L223.28 192.16M223.28 192.16L225.75 190.73M225.75 190.73L228.22 192.16M228.22 192.16L228.22 195.01M227.05 196.5L225.81 197.21M222.11 194.5L222.11 193.65M222.11 193.65L224.58 192.22M224.58 192.22L227.05 193.65M227.05 193.65L227.05 196.5M225.87 197.97L224.64 198.68M220.93 195.97L220.93 195.12M220.93 195.12L223.4 193.69M223.4 193.69L225.87 195.12M225.87 195.12L225.87 197.97M224.7 199.41L223.46 200.13M219.76 197.42L219.76 196.56M219.76 196.56L222.23 195.14M222.23 195.14L224.7 196.56M224.7 196.56L224.7 199.41M223.52 200.82L222.29 201.53M218.59 198.54L218.59 197.97M218.59 197.97L221.05 196.55M221.05 196.55L223.52 197.97M223.52 197.97L223.52 200.82M222.35 202.18L221.11 202.89M217.41 199.9L217.41 199.33M217.41 199.33L219.88 197.9M219.88 197.9L222.35 199.33M222.35 199.33L222.35 202.18M221.17 203.47L219.94 204.19M216.24 201.19L216.24 200.62M216.24 200.62L218.7 199.2M218.7 199.2L221.17 200.62M221.17 200.62L221.17 203.47M220 204.7L218.76 205.41M215.06 202.42L215.06 201.85M215.06 201.85L217.53 200.42M217.53 200.42L220 201.85M220 201.85L220 204.7M218.82 205.87L217.59 206.58M213.89 203.59L213.89 203.02M213.89 203.02L216.35 201.59M216.35 201.59L218.82 203.02M218.82 203.02L218.82 205.87M217.65 207.04L216.41 207.75M212.71 204.76L212.71 204.19M212.71 204.19L215.18 202.77M215.18 202.77L217.65 204.19M217.65 204.19L217.65 207.04M216.47 208.19L215.24 208.91M211.54 205.91L211.54 205.34M211.54 205.34L214.01 203.92M214.01 203.92L216.47 205.34M216.47 205.34L216.47 208.19M215.3 209.3L214.06 210.02M210.36 206.74L210.36 206.45M210.36 206.45L212.83 205.03M212.83 205.03L215.3 206.45M215.3 206.45L215.3 209.3M214.12 210.35L212.89 211.06M209.19 207.79L209.19 207.5M209.19 207.5L211.66 206.08M211.66 206.08L214.12 207.5M214.12 207.5L214.12 210.35M212.95 211.31L211.72 212.03M208.01 208.75L208.01 208.46M208.01 208.46L210.48 207.04M210.48 207.04L212.95 208.46M212.95 208.46L212.95 211.31M211.77 212.17L210.54 212.88M207.09 209.18L209.31 207.89M209.31 207.89L211.77 209.32M211.77 209.32L211.77 212.17M210.6 212.9L208.13 214.32M206.9 209.33L208.13 208.62M208.13 208.62L210.6 210.05M210.6 210.05L210.6 212.9M209.43 213.5L206.96 214.93M205.97 209.8L206.96 209.23M206.96 209.23L209.43 210.65M209.43 210.65L209.43 213.5M208.25 214.1L205.78 215.52M204.8 210.39L205.78 209.82M205.78 209.82L208.25 211.25M208.25 211.25L208.25 214.1M207.08 214.67L204.61 216.09M204.61 216.09L204.36 215.95M203.62 210.96L204.61 210.39M204.61 210.39L207.08 211.82M207.08 211.82L207.08 214.67M205.9 215.2L203.43 216.62M203.43 216.62L203.19 216.48M202.45 211.49L203.43 210.92M203.43 210.92L205.9 212.35M205.9 212.35L205.9 215.2M204.73 215.67L202.26 217.1M202.26 217.1L202.01 216.96M201.27 211.97L202.26 211.4M202.26 211.4L204.73 212.82M204.73 212.82L204.73 215.67M203.55 216.07L201.08 217.5M201.08 217.5L200.84 217.35M200.34 212.22L201.08 211.8M201.08 211.8L203.55 213.22M203.55 213.22L203.55 216.07M202.38 216.38L199.91 217.8M199.91 217.8L199.42 217.52M199.17 212.53L199.91 212.1M199.91 212.1L202.38 213.53M202.38 213.53L202.38 216.38M201.2 216.57L198.73 217.99M198.73 217.99L198.24 217.71M197.99 212.72L198.73 212.29M198.73 212.29L201.2 213.72M201.2 213.72L201.2 216.57M200.03 216.64L197.56 218.07M197.56 218.07L197.07 217.78M196.82 212.79L197.56 212.37M197.56 212.37L200.03 213.79M200.03 213.79L200.03 216.64M198.85 216.68L196.39 218.11M196.39 218.11L195.89 217.82M195.64 212.84L196.39 212.41M196.39 212.41L198.85 213.83M198.85 213.83L198.85 216.68M197.68 216.72L195.21 218.15M195.21 218.15L194.72 217.86M194.72 212.73L195.21 212.45M195.21 212.45L197.68 213.87M197.68 213.87L197.68 216.72M196.5 216.75L194.04 218.18M194.04 218.18L193.54 217.89M193.54 212.76L194.04 212.48M194.04 212.48L196.5 213.9M196.5 213.9L196.5 216.75M195.33 216.78L192.86 218.21M192.86 218.21L192.37 217.92M192.37 212.79L192.86 212.51M192.86 212.51L195.33 213.93M195.33 213.93L195.33 216.78M194.15 216.8L191.69 218.23M191.69 218.23L191.19 217.94M191.19 212.81L191.69 212.53M191.69 212.53L194.15 213.95M194.15 213.95L194.15 216.8M192.98 216.82L190.51 218.24M190.51 218.24L190.02 217.96M190.02 212.83L190.51 212.54M190.51 212.54L192.98 213.97M192.98 213.97L192.98 216.82M191.81 216.82L189.34 218.25M189.34 218.25L188.84 217.96M188.84 212.83L189.34 212.55M189.34 212.55L191.81 213.97M191.81 213.97L191.81 216.82M190.63 216.82L188.16 218.24M188.16 218.24L187.42 217.82M187.67 212.83L188.16 212.54M188.16 212.54L190.63 213.97M190.63 213.97L190.63 216.82M189.46 216.71L186.99 218.13M186.99 218.13L186.25 217.71M186.49 212.72L186.99 212.43M186.99 212.43L189.46 213.86M189.46 213.86L189.46 216.71M188.28 216.48L185.81 217.9M185.81 217.9L184.83 217.33M185.57 212.35L185.81 212.2M185.81 212.2L188.28 213.63M188.28 213.63L188.28 216.48M187.11 216.15L184.64 217.57M184.64 217.57L183.65 217M184.39 212.02L184.64 211.87M184.64 211.87L187.11 213.3M187.11 213.3L187.11 216.15M185.93 215.74L183.46 217.16M183.46 217.16L182.48 216.59M183.22 211.61L183.46 211.46M183.46 211.46L185.93 212.89M185.93 212.89L185.93 215.74M184.76 215.27L182.29 216.69M182.29 216.69L181.3 216.12M182.04 211.14L182.29 210.99M182.29 210.99L184.76 212.42M184.76 212.42L184.76 215.27M183.58 214.76L181.11 216.18M181.11 216.18L180.13 215.61M180.87 210.63L181.11 210.48M181.11 210.48L183.58 211.91M183.58 211.91L183.58 214.76M182.41 214.23L179.94 215.66M179.94 215.66L178.95 215.09M179.69 210.1L179.94 209.96M179.94 209.96L182.41 211.38M182.41 211.38L182.41 214.23M181.23 213.71L178.77 215.13M178.77 215.13L177.78 214.56M178.77 209.43L181.23 210.86M181.23 210.86L181.23 213.71M180.06 213.13L177.59 214.55M177.59 214.55L175.12 213.13M178.82 209.56L180.06 210.28M180.06 210.28L180.06 213.13M178.88 212.43L176.42 213.85M176.42 213.85L173.95 212.43M177.65 208.86L178.88 209.58M178.88 209.58L178.88 212.43M177.71 211.64L175.24 213.06M175.24 213.06L172.77 211.64M172.77 211.64L172.77 211.35M176.48 208.07L177.71 208.79M177.71 208.79L177.71 211.64M176.53 210.78L174.07 212.2M174.07 212.2L171.6 210.78M171.6 210.78L171.6 210.49M175.3 207.22L176.53 207.93M176.53 207.93L176.53 210.78M175.36 209.87L172.89 211.3M172.89 211.3L170.42 209.87M170.42 209.87L170.42 209.59M174.13 206.31L175.36 207.02M175.36 207.02L175.36 209.87M174.19 208.94L171.72 210.37M171.72 210.37L169.25 208.94M169.25 208.94L169.25 208.66M172.95 205.38L174.19 206.09M174.19 206.09L174.19 208.94M173.01 208.01L170.54 209.44M170.54 209.44L168.07 208.01M168.07 208.01L168.07 207.73M171.78 204.45L173.01 205.16M173.01 205.16L173.01 208.01M171.84 207.1L169.37 208.53M169.37 208.53L166.9 207.1M166.9 207.1L166.9 206.82M170.6 203.54L171.84 204.25M171.84 204.25L171.84 207.1M170.66 206.22L168.19 207.65M168.19 207.65L165.73 206.22M165.73 206.22L165.73 205.94M169.43 202.66L170.66 203.37M170.66 203.37L170.66 206.22M169.49 205.35L167.02 206.78M167.02 206.78L164.55 205.35M164.55 205.35L164.55 205.07M168.25 201.79L169.49 202.5M169.49 202.5L169.49 205.35M168.31 204.48L165.84 205.9M165.84 205.9L163.38 204.48M163.38 204.48L163.38 204.19M167.08 200.91L168.31 201.63M168.31 201.63L168.31 204.48M167.14 203.59L164.67 205.01M164.67 205.01L162.2 203.59M162.2 203.59L162.2 203.3M165.9 200.03L167.14 200.74M167.14 200.74L167.14 203.59M165.96 202.68L163.49 204.1M163.49 204.1L161.03 202.68M161.03 202.68L161.03 202.39M164.73 199.12L165.96 199.83M165.96 199.83L165.96 202.68M164.79 201.74L162.32 203.16M162.32 203.16L159.85 201.74M159.85 201.74L159.85 201.45M163.55 198.18L164.79 198.89M164.79 198.89L164.79 201.74M163.61 200.76L161.15 202.18M161.15 202.18L158.68 200.76M158.68 200.76L158.68 200.47M162.38 197.2L163.61 197.91M163.61 197.91L163.61 200.76M162.44 199.73L159.97 201.16M159.97 201.16L157.5 199.73M157.5 199.73L157.5 199.45M161.2 196.17L162.44 196.88M162.44 196.88L162.44 199.73M161.26 198.64L158.8 200.07M158.8 200.07L156.33 198.64M156.33 198.64L156.33 198.07M160.03 195.08L161.26 195.79M161.26 195.79L161.26 198.64M160.09 197.46L157.62 198.88M157.62 198.88L155.15 197.46M155.15 197.46L155.15 196.89M158.86 193.89L160.09 194.61M160.09 194.61L160.09 197.46M158.91 196.19L156.45 197.61M156.45 197.61L153.98 196.19M153.98 196.19L153.98 195.62M157.68 192.63L158.91 193.34M158.91 193.34L158.91 196.19M157.74 194.86L155.27 196.29M155.27 196.29L152.8 194.86M152.8 194.86L152.8 194.29M156.51 191.3L157.74 192.01M157.74 192.01L157.74 194.86M156.57 193.51L154.1 194.93M154.1 194.93L151.63 193.51M151.63 193.51L151.63 192.94M155.33 189.95L156.57 190.66M156.57 190.66L156.57 193.51M155.39 192.15L152.92 193.58M152.92 193.58L150.45 192.15M150.45 192.15L150.45 191.58M154.16 188.59L155.39 189.3M155.39 189.3L155.39 192.15M154.22 190.81L151.75 192.24M151.75 192.24L149.28 190.81M149.28 190.81L149.28 190.24M152.98 187.25L154.22 187.96M154.22 187.96L154.22 190.81M153.04 189.46L150.57 190.88M150.57 190.88L148.11 189.46M148.11 189.46L148.11 188.89M151.81 185.89L153.04 186.61M153.04 186.61L153.04 189.46M151.87 188.08L149.4 189.51M149.4 189.51L146.93 188.08M146.93 188.08L146.93 187.51M150.63 184.52L151.87 185.23M151.87 185.23L151.87 188.08M150.69 186.7L148.22 188.12M148.22 188.12L145.76 186.7M145.76 186.7L145.76 185.84M149.46 183.13L150.69 183.85M150.69 183.85L150.69 186.7M149.52 185.31L147.05 186.73M147.05 186.73L144.58 185.31M144.58 185.31L144.58 184.74M148.28 181.74L149.52 182.46M149.52 182.46L149.52 185.31M148.34 183.92L145.87 185.34M145.87 185.34L143.41 183.92M143.41 183.92L143.41 183.35M147.11 180.35L148.34 181.07M148.34 181.07L148.34 183.92M147.17 182.54L144.7 183.96M144.7 183.96L142.23 182.54M142.23 182.54L142.23 181.97M145.93 178.98L147.17 179.69M147.17 179.69L147.17 182.54M145.99 181.18L143.53 182.6M143.53 182.6L141.06 181.18M141.06 181.18L141.06 180.61M144.76 177.62L145.99 178.33M145.99 178.33L145.99 181.18M144.82 179.84L142.35 181.26M142.35 181.26L139.88 179.84M139.88 179.84L139.88 179.27M143.58 176.27L144.82 176.99M144.82 176.99L144.82 179.84M143.64 178.5L141.18 179.93M141.18 179.93L138.71 178.5M138.71 178.5L138.71 177.93M142.41 174.94L143.64 175.65M143.64 175.65L143.64 178.5M142.47 177.16L140 178.59M140 178.59L137.53 177.16M137.53 177.16L137.53 176.59M141.24 173.6L142.47 174.31M142.47 174.31L142.47 177.16M141.29 175.81L138.83 177.23M138.83 177.23L136.36 175.81M136.36 175.81L136.36 175.24M140.06 172.24L141.29 172.96M141.29 172.96L141.29 175.81M140.12 174.43L137.65 175.86M137.65 175.86L135.18 174.43M135.18 174.43L135.18 173.86M138.89 170.87L140.12 171.58M140.12 171.58L140.12 174.43M138.95 173.06L136.48 174.48M136.48 174.48L134.01 173.06M134.01 173.06L134.01 172.2M137.71 169.5L138.95 170.21M138.95 170.21L138.95 173.06M137.77 171.66L135.3 173.09M135.3 173.09L132.83 171.66M132.83 171.66L132.83 170.81M136.54 168.1L137.77 168.81M137.77 168.81L137.77 171.66M136.6 170.22L134.13 171.65M134.13 171.65L131.66 170.22M131.66 170.22L131.66 169.37M135.36 166.66L136.6 167.37M136.6 167.37L136.6 170.22M135.42 168.71L132.95 170.13M132.95 170.13L130.49 168.71M130.49 168.71L130.49 167.85M134.19 165.15L135.42 165.86M135.42 165.86L135.42 168.71M134.25 167.1L131.78 168.53M131.78 168.53L129.31 167.1M129.31 167.1L129.31 166.25M133.01 163.54L134.25 164.25M134.25 164.25L134.25 167.1M133.07 165.46L130.6 166.88M130.6 166.88L128.14 165.46M128.14 165.46L128.14 164.6M131.84 161.89L133.07 162.61M133.07 162.61L133.07 165.46M131.9 163.83L129.43 165.25M129.43 165.25L126.96 163.83M126.96 163.83L126.96 162.97M130.66 160.27L131.9 160.98M131.9 160.98L131.9 163.83M130.72 162.27L128.25 163.7M128.25 163.7L125.79 162.27M125.79 162.27L125.79 161.42M129.49 158.71L130.72 159.42M130.72 159.42L130.72 162.27M129.55 160.74L127.08 162.17M127.08 162.17L124.61 160.74M124.61 160.74L124.61 159.89M128.31 157.18L129.55 157.89M129.55 157.89L129.55 160.74M128.37 159.15L125.91 160.58M125.91 160.58L123.44 159.15M123.44 159.15L123.44 158.01M127.14 155.59L128.37 156.3M128.37 156.3L128.37 159.15M127.2 157.41L124.73 158.83M124.73 158.83L122.26 157.41M122.26 157.41L122.26 155.98M125.96 153.84L127.2 154.56M127.2 154.56L127.2 157.41M126.02 155.43L123.56 156.86M123.56 156.86L121.09 155.43M121.09 155.43L121.09 154.01M124.79 151.87L126.02 152.58M126.02 152.58L126.02 155.43M124.85 153.31L122.38 154.74M122.38 154.74L119.91 153.31M119.91 153.31L119.91 151.89M123.62 149.75L124.85 150.46M124.85 150.46L124.85 153.31M123.67 151.17L121.21 152.6M121.21 152.6L118.74 151.17M118.74 151.17L118.74 149.75M122.44 147.61L123.67 148.32M123.67 148.32L123.67 151.17M122.5 149.11L120.03 150.53M120.03 150.53L117.56 149.11M117.56 149.11L117.56 147.68M121.27 145.54L122.5 146.26M122.5 146.26L122.5 149.11M121.33 146.99L118.86 148.42M118.86 148.42L116.39 146.99M116.39 146.99L116.39 145.57M120.09 143.43L121.33 144.14M121.33 144.14L121.33 146.99M120.15 144.91L117.68 146.33M117.68 146.33L115.21 144.91M115.21 144.91L115.21 143.77M118.92 141.34L120.15 142.06M120.15 142.06L120.15 144.91M118.98 142.97L116.51 144.39M116.51 144.39L114.04 142.97M114.04 142.97L114.04 142.11M117.74 139.4L118.98 140.12M118.98 140.12L118.98 142.97M117.8 141.3L115.33 142.72M115.33 142.72L112.87 141.3M112.87 141.3L112.87 140.44M116.57 137.73L117.8 138.45M117.8 138.45L117.8 141.3M116.63 139.85L114.16 141.28M114.16 141.28L111.69 139.85M111.69 139.85L111.69 139.28M115.39 136.29L116.63 137M116.63 137L116.63 139.85M115.45 138.52L112.98 139.95M112.98 139.95L110.52 138.52M110.52 138.52L110.52 137.95M114.22 134.96L115.45 135.67M115.45 135.67L115.45 138.52M114.28 137.21L111.81 138.64M111.81 138.64L109.34 137.21M109.34 137.21L109.34 136.64M113.04 133.65L114.28 134.36M114.28 134.36L114.28 137.21M113.1 135.95L110.63 137.37M110.63 137.37L108.17 135.95M108.17 135.95L108.17 135.38M111.87 132.38L113.1 133.1M113.1 133.1L113.1 135.95M111.93 134.71L109.46 136.14M109.46 136.14L106.99 134.71M106.99 134.71L106.99 134.14M110.69 131.15L111.93 131.86M111.93 131.86L111.93 134.71M110.75 133.44L108.29 134.86M108.29 134.86L105.82 133.44M105.82 133.44L105.82 132.87M109.52 129.87L110.75 130.59M110.75 130.59L110.75 133.44M109.58 132.05L107.11 133.48M107.11 133.48L104.64 132.05M104.64 132.05L104.64 131.2M108.34 128.49L109.58 129.2M109.58 129.2L109.58 132.05M108.4 130.58L105.94 132.01M105.94 132.01L103.47 130.58M103.47 130.58L103.47 129.73M107.17 127.02L108.4 127.73M108.4 127.73L108.4 130.58M107.23 129.09L104.76 130.52M104.76 130.52L102.29 129.09M102.29 129.09L102.29 128.24M106 125.53L107.23 126.24M107.23 126.24L107.23 129.09M106.05 127.63L103.59 129.05M103.59 129.05L101.12 127.63M101.12 127.63L101.12 126.77M104.82 124.06L106.05 124.78M106.05 124.78L106.05 127.63M104.88 126.23L102.41 127.66M102.41 127.66L99.94 126.23M99.94 126.23L99.94 125.38M103.65 122.67L104.88 123.38M104.88 123.38L104.88 126.23M103.71 124.84L101.24 126.26M101.24 126.26L98.77 124.84M98.77 124.84L98.77 124.27M102.47 121.28L103.71 121.99M103.71 121.99L103.71 124.84M102.53 123.47L100.06 124.89M100.06 124.89L97.59 123.47M97.59 123.47L97.59 122.9M101.3 119.9L102.53 120.62M102.53 120.62L102.53 123.47M101.36 122.15L98.89 123.57M98.89 123.57L96.42 122.15M96.42 122.15L96.42 121.58M100.12 118.59L101.36 119.3M101.36 119.3L101.36 122.15M100.18 120.92L97.71 122.34M97.71 122.34L95.25 120.92M95.25 120.92L95.25 120.35M98.95 117.35L100.18 118.07M100.18 118.07L100.18 120.92M99.01 119.8L96.54 121.22M96.54 121.22L94.07 119.8M94.07 119.8L94.07 119.51M97.77 116.23L99.01 116.95M99.01 116.95L99.01 119.8M97.83 118.74L95.36 120.16M95.36 120.16L92.9 118.74M92.9 118.74L92.9 118.45M96.6 115.17L97.83 115.89M97.83 115.89L97.83 118.74M96.66 117.73L94.19 119.15M94.19 119.15L91.72 117.73M91.72 117.73L91.72 117.44M95.42 114.17L96.66 114.88M96.66 114.88L96.66 117.73M95.48 116.78L93.01 118.21M93.01 118.21L90.55 116.78M90.55 116.78L90.55 116.5M94.25 113.22L95.48 113.93M95.48 113.93L95.48 116.78M94.31 115.91L91.84 117.34M91.84 117.34L89.37 115.91M93.07 112.35L94.31 113.06M94.31 113.06L94.31 115.91M93.13 115.13L90.67 116.55M90.67 116.55L88.44 115.27M91.9 111.57L93.13 112.28M93.13 112.28L93.13 115.13M91.96 114.43L89.49 115.85M89.49 115.85L88.26 115.14M89.49 110.15L91.96 111.58M91.96 111.58L91.96 114.43M90.78 113.79L88.32 115.21M88.32 115.21L87.33 114.64M88.32 109.51L90.78 110.94M90.78 110.94L90.78 113.79M89.61 113.2L87.14 114.63M87.14 114.63L86.15 114.06M87.14 108.93L89.61 110.35M89.61 110.35L89.61 113.2M88.43 112.65L85.97 114.08M85.97 114.08L84.98 113.51M85.72 108.52L85.97 108.38M85.97 108.38L88.43 109.8M88.43 109.8L88.43 112.65M87.26 112.13L84.79 113.55M84.79 113.55L83.8 112.98M84.55 108L84.79 107.85M84.79 107.85L87.26 109.28M87.26 109.28L87.26 112.13M86.09 111.62L83.62 113.04M83.62 113.04L82.63 112.47M83.37 107.48L83.62 107.34M83.62 107.34L86.09 108.77M86.09 108.77L86.09 111.62M84.91 111.1L82.44 112.53M82.44 112.53L81.46 111.96M82.2 106.97L82.44 106.83M82.44 106.83L84.91 108.25M84.91 108.25L84.91 111.1M83.74 110.58L81.27 112.01M81.27 112.01L80.28 111.44M81.27 106.31L83.74 107.73M83.74 107.73L83.74 110.58M82.56 110.03L80.09 111.46M80.09 111.46L79.11 110.89M80.09 105.76L82.56 107.18M82.56 107.18L82.56 110.03M81.39 109.45L78.92 110.87M78.92 110.87L77.68 110.16M78.92 105.17L81.39 106.6M81.39 106.6L81.39 109.45M80.21 108.83L77.74 110.25M77.74 110.25L76.76 109.68M77.74 104.55L80.21 105.98M80.21 105.98L80.21 108.83M79.04 108.23L76.57 109.66M76.57 109.66L75.34 108.94M76.57 103.96L79.04 105.38M79.04 105.38L79.04 108.23M77.86 107.62L75.39 109.04M75.39 109.04L74.16 108.33M75.39 103.34L77.86 104.77M77.86 104.77L77.86 107.62M76.69 106.95L74.22 108.38M74.22 108.38L71.75 106.95M75.45 103.39L76.69 104.1M76.69 104.1L76.69 106.95M75.51 106.2L73.05 107.63M73.05 107.63L70.58 106.2M70.58 106.2L70.58 105.92M74.28 102.64L75.51 103.35M75.51 103.35L75.51 106.2M74.34 105.32L71.87 106.75M71.87 106.75L69.4 105.32M69.4 105.32L69.4 102.47M69.4 102.47L71.87 101.05M71.87 101.05L74.34 102.47M74.34 102.47L74.34 105.32" fill="none" stroke="#000" stroke-width="0.8" stroke-linecap="round"/>
<path fill="#000" d="M59.03 93.75L56 95.5L52.97 93.75L52.97 90.25L56 88.5L59.03 90.25ZM66.33 92.45L63.3 94.2L60.27 92.45L60.27 88.95L63.3 87.2L66.33 88.95ZM71.03 100.25L68 102L64.97 100.25L64.97 96.75L68 95L71.03 96.75ZM77.03 105.75L74 107.5L70.97 105.75L70.97 102.25L74 100.5L77.03 102.25ZM83.53 109.75L80.5 111.5L77.47 109.75L77.47 106.25L80.5 104.5L83.53 106.25ZM89.03 114.75L86 116.5L82.97 114.75L82.97 111.25L86 109.5L89.03 111.25ZM95.33 117.55L92.3 119.3L89.27 117.55L89.27 114.05L92.3 112.3L95.33 114.05ZM101.13 122.75L98.1 124.5L95.07 122.75L95.07 119.25L98.1 117.5L101.13 119.25ZM106.73 130.55L103.7 132.3L100.67 130.55L100.67 127.05L103.7 125.3L106.73 127.05ZM112.63 135.95L109.6 137.7L106.57 135.95L106.57 132.45L109.6 130.7L112.63 132.45ZM118.23 141.75L115.2 143.5L112.17 141.75L112.17 138.25L115.2 136.5L118.23 138.25ZM124.03 147.75L121 149.5L117.97 147.75L117.97 144.25L121 142.5L124.03 144.25ZM129.93 153.75L126.9 155.5L123.87 153.75L123.87 150.25L126.9 148.5L129.93 150.25ZM135.83 159.75L132.8 161.5L129.77 159.75L129.77 156.25L132.8 154.5L135.83 156.25ZM141.63 164.75L138.6 166.5L135.57 164.75L135.57 161.25L138.6 159.5L141.63 161.25ZM147.53 169.05L144.5 170.8L141.47 169.05L141.47 165.55L144.5 163.8L147.53 165.55ZM153.33 172.55L150.3 174.3L147.27 172.55L147.27 169.05L150.3 167.3L153.33 169.05ZM159.33 180.95L156.3 182.7L153.27 180.95L153.27 177.45L156.3 175.7L159.33 177.45ZM165.23 183.45L162.2 185.2L159.17 183.45L159.17 179.95L162.2 178.2L165.23 179.95ZM171.23 186.35L168.2 188.1L165.17 186.35L165.17 182.85L168.2 181.1L171.23 182.85ZM177.03 188.25L174 190L170.97 188.25L170.97 184.75L174 183L177.03 184.75ZM182.93 190.25L179.9 192L176.87 190.25L176.87 186.75L179.9 185L182.93 186.75ZM189.03 192.55L186 194.3L182.97 192.55L182.97 189.05L186 187.3L189.03 189.05ZM194.83 193.45L191.8 195.2L188.77 193.45L188.77 189.95L191.8 188.2L194.83 189.95ZM200.63 194.05L197.6 195.8L194.57 194.05L194.57 190.55L197.6 188.8L200.63 190.55ZM206.53 190.25L203.5 192L200.47 190.25L200.47 186.75L203.5 185L206.53 186.75ZM212.13 188.25L209.1 190L206.07 188.25L206.07 184.75L209.1 183L212.13 184.75ZM218.03 184.75L215 186.5L211.97 184.75L211.97 181.25L215 179.5L218.03 181.25ZM223.83 180.95L220.8 182.7L217.77 180.95L217.77 177.45L220.8 175.7L223.83 177.45ZM229.93 175.25L226.9 177L223.87 175.25L223.87 171.75L226.9 170L229.93 171.75ZM235.73 168.75L232.7 170.5L229.67 168.75L229.67 165.25L232.7 163.5L235.73 165.25ZM241.53 161.75L238.5 163.5L235.47 161.75L235.47 158.25L238.5 156.5L241.53 158.25ZM247.43 155.15L244.4 156.9L241.37 155.15L241.37 151.65L244.4 149.9L247.43 151.65ZM253.03 148.25L250 150L246.97 148.25L246.97 144.75L250 143L253.03 144.75ZM258.93 142.15L255.9 143.9L252.87 142.15L252.87 138.65L255.9 136.9L258.93 138.65ZM265.03 135.75L262 137.5L258.97 135.75L258.97 132.25L262 130.5L265.03 132.25ZM270.93 130.25L267.9 132L264.87 130.25L264.87 126.75L267.9 125L270.93 126.75ZM276.73 123.75L273.7 125.5L270.67 123.75L270.67 120.25L273.7 118.5L276.73 120.25ZM282.43 117.45L279.4 119.2L276.37 117.45L276.37 113.95L279.4 112.2L282.43 113.95ZM288.53 112.45L285.5 114.2L282.47 112.45L282.47 108.95L285.5 107.2L288.53 108.95ZM294.23 108.85L291.2 110.6L288.17 108.85L288.17 105.35L291.2 103.6L294.23 105.35ZM300.63 104.75L297.6 106.5L294.57 104.75L294.57 101.25L297.6 99.5L300.63 101.25ZM306.53 102.25L303.5 104L300.47 102.25L300.47 98.75L303.5 97L306.53 98.75ZM312.23 100.05L309.2 101.8L306.17 100.05L306.17 96.55L309.2 94.8L312.23 96.55ZM318.03 98.95L315 100.7L311.97 98.95L311.97 95.45L315 93.7L318.03 95.45ZM324.03 96.75L321 98.5L317.97 96.75L317.97 93.25L321 91.5L324.03 93.25ZM330.03 95.55L327 97.3L323.97 95.55L323.97 92.05L327 90.3L330.03 92.05ZM335.73 93.95L332.7 95.7L329.67 93.95L329.67 90.45L332.7 88.7L335.73 90.45ZM341.53 93.75L338.5 95.5L335.47 93.75L335.47 90.25L338.5 88.5L341.53 90.25ZM347.53 93.75L344.5 95.5L341.47 93.75L341.47 90.25L344.5 88.5L347.53 90.25ZM353.43 93.25L350.4 95L347.37 93.25L347.37 89.75L350.4 88L353.43 89.75ZM359.17 92.55L356.14 94.3L353.11 92.55L353.11 89.05L356.14 87.3L359.17 89.05ZM365.04 91.25L362.01 93L358.98 91.25L358.98 87.75L362.01 86L365.04 87.75ZM370.92 90.05L367.89 91.8L364.86 90.05L364.86 86.55L367.89 84.8L370.92 86.55ZM376.79 89.15L373.76 90.9L370.73 89.15L370.73 85.65L373.76 83.9L376.79 85.65ZM382.66 88.55L379.63 90.3L376.6 88.55L376.6 85.05L379.63 83.3L382.66 85.05ZM388.54 88.25L385.51 90L382.48 88.25L382.48 84.75L385.51 83L388.54 84.75ZM394.41 88.05L391.38 89.8L388.35 88.05L388.35 84.55L391.38 82.8L394.41 84.55ZM400.28 87.95L397.25 89.7L394.22 87.95L394.22 84.45L397.25 82.7L400.28 84.45ZM406.16 87.85L403.13 89.6L400.1 87.85L400.1 84.35L403.13 82.6L406.16 84.35ZM412.03 87.75L409 89.5L405.97 87.75L405.97 84.25L409 82.5L412.03 84.25Z"/>
<path d="M406.1 81.7L411.9 81.7L409 86.5ZM403.75 81.62L409.55 81.62L406.65 86.42ZM401.4 81.54L407.2 81.54L404.3 86.34ZM399.05 81.47L404.85 81.47L401.95 86.27ZM396.7 81.4L402.5 81.4L399.6 86.2ZM394.35 81.34L400.15 81.34L397.25 86.14ZM392 81.28L397.8 81.28L394.9 86.08ZM389.65 81.23L395.45 81.23L392.55 86.03ZM387.31 81.18L393.11 81.18L390.21 85.98ZM384.96 81.12L390.76 81.12L387.86 85.92ZM382.61 81.08L388.41 81.08L385.51 85.88ZM380.26 81.04L386.06 81.04L383.16 85.84ZM377.91 81L383.71 81L380.81 85.8ZM375.56 80.99L381.36 80.99L378.46 85.79ZM373.21 80.99L379.01 80.99L376.11 85.79ZM370.86 81.03L376.66 81.03L373.76 85.83ZM368.51 81.12L374.31 81.12L371.41 85.92ZM366.16 81.23L371.96 81.23L369.06 86.03ZM363.81 81.37L369.61 81.37L366.71 86.17ZM361.46 81.53L367.26 81.53L364.36 86.33ZM359.11 81.69L364.91 81.69L362.01 86.49ZM356.76 81.86L362.56 81.86L359.66 86.66ZM354.41 82.01L360.21 82.01L357.31 86.81ZM352.07 82.16L357.87 82.16L354.97 86.96ZM349.72 82.32L355.52 82.32L352.62 87.12ZM347.37 82.49L353.17 82.49L350.27 87.29ZM345.02 82.67L350.82 82.67L347.92 87.47ZM342.67 82.86L348.47 82.86L345.57 87.66ZM340.32 83.05L346.12 83.05L343.22 87.85ZM337.97 83.26L343.77 83.26L340.87 88.06ZM335.62 83.48L341.42 83.48L338.52 88.28ZM333.27 83.72L339.07 83.72L336.17 88.52ZM330.92 83.97L336.72 83.97L333.82 88.77ZM328.57 84.25L334.37 84.25L331.47 89.05ZM326.22 84.54L332.02 84.54L329.12 89.34ZM323.87 84.84L329.67 84.84L326.77 89.64ZM321.52 85.15L327.32 85.15L324.42 89.95ZM319.17 85.48L324.97 85.48L322.07 90.28ZM316.83 85.8L322.63 85.8L319.73 90.6ZM314.48 86.13L320.28 86.13L317.38 90.93ZM312.13 86.47L317.93 86.47L315.03 91.27ZM309.78 86.84L315.58 86.84L312.68 91.64ZM307.43 87.21L313.23 87.21L310.33 92.01ZM305.08 87.58L310.88 87.58L307.98 92.38ZM302.73 87.92L308.53 87.92L305.63 92.72ZM300.38 88.25L306.18 88.25L303.28 93.05ZM298.03 88.57L303.83 88.57L300.93 93.37ZM295.68 88.93L301.48 88.93L298.58 93.73ZM293.33 89.36L299.13 89.36L296.23 94.16ZM290.98 89.84L296.78 89.84L293.88 94.64ZM288.63 90.38L294.43 90.38L291.53 95.18ZM286.28 90.97L292.08 90.97L289.18 95.77ZM283.93 91.61L289.73 91.61L286.83 96.41ZM281.59 92.35L287.39 92.35L284.49 97.15ZM279.24 93.16L285.04 93.16L282.14 97.96ZM276.89 94.02L282.69 94.02L279.79 98.82ZM274.54 94.9L280.34 94.9L277.44 99.7ZM272.19 95.81L277.99 95.81L275.09 100.61ZM269.84 96.77L275.64 96.77L272.74 101.57ZM267.49 97.76L273.29 97.76L270.39 102.56ZM265.14 98.78L270.94 98.78L268.04 103.58ZM262.79 99.82L268.59 99.82L265.69 104.62ZM260.44 100.87L266.24 100.87L263.34 105.67ZM258.09 101.95L263.89 101.95L260.99 106.75ZM255.74 103.06L261.54 103.06L258.64 107.86ZM253.39 104.21L259.19 104.21L256.29 109.01ZM251.04 105.41L256.84 105.41L253.94 110.21ZM248.69 106.67L254.49 106.67L251.59 111.47ZM246.35 107.98L252.15 107.98L249.25 112.78ZM244 109.34L249.8 109.34L246.9 114.14ZM241.65 110.77L247.45 110.77L244.55 115.57ZM239.3 112.26L245.1 112.26L242.2 117.06ZM236.95 113.84L242.75 113.84L239.85 118.64ZM234.6 115.54L240.4 115.54L237.5 120.34ZM232.25 117.3L238.05 117.3L235.15 122.1ZM229.9 119.09L235.7 119.09L232.8 123.89ZM227.55 120.85L233.35 120.85L230.45 125.65ZM225.2 122.58L231 122.58L228.1 127.38ZM222.85 124.31L228.65 124.31L225.75 129.11ZM220.5 126.02L226.3 126.02L223.4 130.82ZM218.15 127.82L223.95 127.82L221.05 132.62ZM215.8 129.41L221.6 129.41L218.7 134.21ZM213.45 130.52L219.25 130.52L216.35 135.32ZM211.11 131.44L216.91 131.44L214.01 136.24ZM208.76 132.24L214.56 132.24L211.66 137.04ZM206.41 132.95L212.21 132.95L209.31 137.75ZM204.06 133.61L209.86 133.61L206.96 138.41ZM201.71 134.29L207.51 134.29L204.61 139.09ZM199.36 134.99L205.16 134.99L202.26 139.79ZM197.01 135.66L202.81 135.66L199.91 140.46ZM194.66 136.23L200.46 136.23L197.56 141.03ZM192.31 136.65L198.11 136.65L195.21 141.45ZM189.96 136.87L195.76 136.87L192.86 141.67ZM187.61 137.03L193.41 137.03L190.51 141.83ZM185.26 137.15L191.06 137.15L188.16 141.95ZM182.91 137.25L188.71 137.25L185.81 142.05ZM180.56 137.33L186.36 137.33L183.46 142.13ZM178.21 137.41L184.01 137.41L181.11 142.21ZM175.87 137.5L181.67 137.5L178.77 142.3ZM173.52 137.57L179.32 137.57L176.42 142.37ZM171.17 137.63L176.97 137.63L174.07 142.43ZM168.82 137.67L174.62 137.67L171.72 142.47ZM166.47 137.68L172.27 137.68L169.37 142.48ZM164.12 137.68L169.92 137.68L167.02 142.48ZM161.77 137.68L167.57 137.68L164.67 142.48ZM159.42 137.68L165.22 137.68L162.32 142.48ZM157.07 137.68L162.87 137.68L159.97 142.48ZM154.72 137.69L160.52 137.69L157.62 142.49ZM152.37 137.69L158.17 137.69L155.27 142.49ZM150.02 137.7L155.82 137.7L152.92 142.5ZM147.67 137.71L153.47 137.71L150.57 142.51ZM145.32 137.72L151.12 137.72L148.22 142.52ZM142.97 137.74L148.77 137.74L145.87 142.54ZM140.63 137.76L146.43 137.76L143.53 142.56ZM138.28 137.77L144.08 137.77L141.18 142.57ZM135.93 137.79L141.73 137.79L138.83 142.59ZM133.58 137.82L139.38 137.82L136.48 142.62ZM131.23 137.84L137.03 137.84L134.13 142.64ZM128.88 137.88L134.68 137.88L131.78 142.68ZM126.53 137.93L132.33 137.93L129.43 142.73ZM124.18 137.98L129.98 137.98L127.08 142.78ZM121.83 138.09L127.63 138.09L124.73 142.89ZM119.48 138.28L125.28 138.28L122.38 143.08ZM117.13 138.48L122.93 138.48L120.03 143.28ZM114.78 138.75L120.58 138.75L117.68 143.55ZM112.43 139.05L118.23 139.05L115.33 143.85ZM110.08 139.18L115.88 139.18L112.98 143.98ZM107.73 139L113.53 139L110.63 143.8ZM105.39 138.63L111.19 138.63L108.29 143.43ZM103.04 138.15L108.84 138.15L105.94 142.95ZM100.69 137.54L106.49 137.54L103.59 142.34ZM98.34 136.88L104.14 136.88L101.24 141.68ZM95.99 136.16L101.79 136.16L98.89 140.96ZM93.64 135.37L99.44 135.37L96.54 140.17ZM91.29 134.58L97.09 134.58L94.19 139.38ZM88.94 133.73L94.74 133.73L91.84 138.53ZM86.59 132.42L92.39 132.42L89.49 137.22ZM84.24 129.76L90.04 129.76L87.14 134.56ZM83.07 128.13L88.87 128.13L85.97 132.93ZM81.89 126.45L87.69 126.45L84.79 131.25ZM80.72 124.5L86.52 124.5L83.62 129.3ZM79.54 122.41L85.34 122.41L82.44 127.21ZM78.37 120.33L84.17 120.33L81.27 125.13ZM77.19 118.42L82.99 118.42L80.09 123.22ZM76.02 116.83L81.82 116.83L78.92 121.63ZM74.84 115.39L80.64 115.39L77.74 120.19ZM72.49 112.87L78.29 112.87L75.39 117.67ZM70.15 110.75L75.95 110.75L73.05 115.55ZM67.7 108.78L73.5 108.78L70.6 113.58ZM64.6 106.98L70.4 106.98L67.5 111.78ZM62.3 107.98L68.1 107.98L65.2 112.78ZM61.6 103.98L67.4 103.98L64.5 108.78ZM60.1 103.98L65.9 103.98L63 108.78ZM58.5 98.98L64.3 98.98L61.4 103.78ZM55.5 94.68L61.3 94.68L58.4 99.48ZM56.1 88.98L61.9 88.98L59 93.78ZM52.7 81.98L58.5 81.98L55.6 86.78Z" fill="#fff"/><path d="M409.58 81.7L411.9 81.7M411.9 81.7L409 86.5M409 86.5L407.84 84.58M407.23 81.62L409.55 81.62M409.55 81.62L406.65 86.42M406.65 86.42L405.49 84.5M404.88 81.54L407.2 81.54M407.2 81.54L404.3 86.34M404.3 86.34L403.14 84.42M402.53 81.47L404.85 81.47M404.85 81.47L401.95 86.27M401.95 86.27L400.79 84.35M400.18 81.4L402.5 81.4M402.5 81.4L399.6 86.2M399.6 86.2L398.44 84.28M397.83 81.34L400.15 81.34M400.15 81.34L397.25 86.14M397.25 86.14L396.09 84.22M395.48 81.28L397.8 81.28M397.8 81.28L394.9 86.08M394.9 86.08L393.74 84.16M393.13 81.23L395.45 81.23M395.45 81.23L392.55 86.03M392.55 86.03L391.39 84.11M390.79 81.18L393.11 81.18M393.11 81.18L390.21 85.98M390.21 85.98L389.05 84.06M388.44 81.12L390.76 81.12M390.76 81.12L387.86 85.92M387.86 85.92L386.7 84M386.09 81.08L388.41 81.08M388.41 81.08L385.51 85.88M385.51 85.88L384.35 83.96M383.74 81.04L386.06 81.04M386.06 81.04L383.16 85.84M383.16 85.84L382 83.92M381.39 81L383.71 81M383.71 81L380.81 85.8M380.81 85.8L379.65 83.88M375.56 80.99L381.36 80.99M381.36 80.99L378.46 85.79M378.46 85.79L377.3 83.87M373.21 80.99L379.01 80.99M379.01 80.99L376.11 85.79M376.11 85.79L374.95 83.87M370.86 81.03L376.66 81.03M376.66 81.03L373.76 85.83M373.76 85.83L372.6 83.91M368.51 81.12L374.31 81.12M374.31 81.12L371.41 85.92M371.41 85.92L370.25 84M366.16 81.23L371.96 81.23M371.96 81.23L369.06 86.03M369.06 86.03L367.9 84.11M363.81 81.37L369.61 81.37M369.61 81.37L366.71 86.17M366.71 86.17L365.55 84.25M361.46 81.53L367.26 81.53M367.26 81.53L364.36 86.33M364.36 86.33L363.2 84.41M359.11 81.69L364.91 81.69M364.91 81.69L362.01 86.49M362.01 86.49L360.85 84.57M356.76 81.86L362.56 81.86M362.56 81.86L359.66 86.66M359.66 86.66L358.5 84.74M354.41 82.01L360.21 82.01M360.21 82.01L357.31 86.81M357.31 86.81L356.15 84.89M352.07 82.16L357.87 82.16M357.87 82.16L354.97 86.96M354.97 86.96L353.81 85.04M349.72 82.32L355.52 82.32M355.52 82.32L352.62 87.12M352.62 87.12L351.46 85.2M347.37 82.49L353.17 82.49M353.17 82.49L350.27 87.29M350.27 87.29L349.11 85.37M345.02 82.67L350.82 82.67M350.82 82.67L347.92 87.47M347.92 87.47L346.76 85.55M342.67 82.86L348.47 82.86M348.47 82.86L345.57 87.66M345.57 87.66L344.41 85.74M340.32 83.05L346.12 83.05M346.12 83.05L343.22 87.85M343.22 87.85L342.06 85.93M337.97 83.26L343.77 83.26M343.77 83.26L340.87 88.06M340.87 88.06L339.71 86.14M335.62 83.48L341.42 83.48M341.42 83.48L338.52 88.28M338.52 88.28L337.36 86.36M333.27 83.72L339.07 83.72M339.07 83.72L336.17 88.52M336.17 88.52L335.01 86.6M333.56 84.2L333.27 83.72M330.92 83.97L336.72 83.97M336.72 83.97L333.82 88.77M333.82 88.77L332.66 86.85M331.21 84.45L330.92 83.97M328.57 84.25L334.37 84.25M334.37 84.25L331.47 89.05M331.47 89.05L330.31 87.13M328.86 84.73L328.57 84.25M326.22 84.54L332.02 84.54M332.02 84.54L329.12 89.34M329.12 89.34L327.96 87.42M326.51 85.02L326.22 84.54M323.87 84.84L329.67 84.84M329.67 84.84L326.77 89.64M326.77 89.64L325.61 87.72M324.16 85.32L323.87 84.84M321.52 85.15L327.32 85.15M327.32 85.15L324.42 89.95M324.42 89.95L323.26 88.03M321.81 85.63L321.52 85.15M319.17 85.48L324.97 85.48M324.97 85.48L322.07 90.28M322.07 90.28L320.91 88.36M319.46 85.96L319.17 85.48M316.83 85.8L322.63 85.8M322.63 85.8L319.73 90.6M319.73 90.6L318.57 88.68M317.12 86.28L316.83 85.8M314.48 86.13L320.28 86.13M320.28 86.13L317.38 90.93M317.38 90.93L316.22 89.01M314.77 86.61L314.48 86.13M312.13 86.47L317.93 86.47M317.93 86.47L315.03 91.27M315.03 91.27L313.87 89.35M312.42 86.95L312.13 86.47M309.78 86.84L315.58 86.84M315.58 86.84L312.68 91.64M312.68 91.64L311.52 89.72M310.07 87.32L309.78 86.84M307.43 87.21L313.23 87.21M313.23 87.21L310.33 92.01M310.33 92.01L309.17 90.09M307.72 87.69L307.43 87.21M305.08 87.58L310.88 87.58M310.88 87.58L307.98 92.38M307.98 92.38L306.82 90.46M305.37 88.06L305.08 87.58M302.73 87.92L308.53 87.92M308.53 87.92L305.63 92.72M305.63 92.72L304.47 90.8M303.02 88.4L302.73 87.92M300.38 88.25L306.18 88.25M306.18 88.25L303.28 93.05M303.28 93.05L302.12 91.13M300.67 88.73L300.38 88.25M298.03 88.57L303.83 88.57M303.83 88.57L300.93 93.37M300.93 93.37L299.77 91.45M298.32 89.05L298.03 88.57M295.68 88.93L301.48 88.93M301.48 88.93L298.58 93.73M298.58 93.73L297.42 91.81M295.97 89.41L295.68 88.93M293.33 89.36L299.13 89.36M299.13 89.36L296.23 94.16M296.23 94.16L295.07 92.24M293.62 89.84L293.33 89.36M290.98 89.84L296.78 89.84M296.78 89.84L293.88 94.64M293.88 94.64L293.01 93.2M291.27 90.32L290.98 89.84M288.63 90.38L294.43 90.38M294.43 90.38L291.53 95.18M291.53 95.18L290.66 93.74M288.92 90.86L288.63 90.38M286.28 90.97L292.08 90.97M292.08 90.97L289.18 95.77M289.18 95.77L288.31 94.33M286.57 91.45L286.28 90.97M283.93 91.61L289.73 91.61M289.73 91.61L286.83 96.41M286.83 96.41L285.96 94.97M284.51 92.57L283.93 91.61M281.59 92.35L287.39 92.35M287.39 92.35L284.49 97.15M284.49 97.15L283.62 95.71M282.17 93.31L281.59 92.35M279.24 93.16L285.04 93.16M285.04 93.16L282.14 97.96M282.14 97.96L281.27 96.52M279.82 94.12L279.24 93.16M276.89 94.02L282.69 94.02M282.69 94.02L279.79 98.82M279.79 98.82L278.92 97.38M277.47 94.98L276.89 94.02M274.54 94.9L280.34 94.9M280.34 94.9L277.44 99.7M277.44 99.7L276.57 98.26M275.12 95.86L274.54 94.9M272.19 95.81L277.99 95.81M277.99 95.81L275.09 100.61M275.09 100.61L274.22 99.17M272.77 96.77L272.19 95.81M269.84 96.77L275.64 96.77M275.64 96.77L272.74 101.57M272.74 101.57L271.87 100.13M270.42 97.73L269.84 96.77M267.49 97.76L273.29 97.76M273.29 97.76L270.39 102.56M270.39 102.56L269.52 101.12M268.07 98.72L267.49 97.76M265.14 98.78L270.94 98.78M270.94 98.78L268.04 103.58M268.04 103.58L267.17 102.14M265.72 99.74L265.14 98.78M262.79 99.82L268.59 99.82M268.59 99.82L265.69 104.62M265.69 104.62L264.82 103.18M263.37 100.78L262.79 99.82M260.44 100.87L266.24 100.87M266.24 100.87L263.34 105.67M263.34 105.67L262.47 104.23M261.02 101.83L260.44 100.87M258.09 101.95L263.89 101.95M263.89 101.95L260.99 106.75M260.99 106.75L260.12 105.31M258.67 102.91L258.09 101.95M255.74 103.06L261.54 103.06M261.54 103.06L258.64 107.86M258.64 107.86L257.77 106.42M256.32 104.02L255.74 103.06M253.39 104.21L259.19 104.21M259.19 104.21L256.29 109.01M256.29 109.01L255.42 107.57M254.26 105.65L253.39 104.21M251.04 105.41L256.84 105.41M256.84 105.41L253.94 110.21M253.94 110.21L253.07 108.77M251.91 106.85L251.04 105.41M248.69 106.67L254.49 106.67M254.49 106.67L251.59 111.47M251.59 111.47L250.72 110.03M249.56 108.11L248.69 106.67M246.35 107.98L252.15 107.98M252.15 107.98L249.25 112.78M249.25 112.78L248.38 111.34M247.22 109.42L246.35 107.98M244 109.34L249.8 109.34M249.8 109.34L246.9 114.14M246.9 114.14L246.03 112.7M244.87 110.78L244 109.34M241.65 110.77L247.45 110.77M247.45 110.77L244.55 115.57M244.55 115.57L243.68 114.13M242.52 112.21L241.65 110.77M239.3 112.26L245.1 112.26M245.1 112.26L242.2 117.06M242.2 117.06L241.62 116.1M240.17 113.7L239.3 112.26M236.95 113.84L242.75 113.84M242.75 113.84L239.85 118.64M239.85 118.64L239.27 117.68M238.11 115.76L236.95 113.84M234.6 115.54L240.4 115.54M240.4 115.54L237.5 120.34M237.5 120.34L236.92 119.38M235.76 117.46L234.6 115.54M232.25 117.3L238.05 117.3M238.05 117.3L235.15 122.1M235.15 122.1L234.57 121.14M233.41 119.22L232.25 117.3M229.9 119.09L235.7 119.09M235.7 119.09L232.8 123.89M232.8 123.89L232.22 122.93M231.06 121.01L229.9 119.09M227.55 120.85L233.35 120.85M233.35 120.85L230.45 125.65M230.45 125.65L229.87 124.69M228.71 122.77L227.55 120.85M225.2 122.58L231 122.58M231 122.58L228.1 127.38M228.1 127.38L227.52 126.42M226.36 124.5L225.2 122.58M222.85 124.31L228.65 124.31M228.65 124.31L225.75 129.11M225.75 129.11L225.17 128.15M224.01 126.23L222.85 124.31M220.5 126.02L226.3 126.02M226.3 126.02L223.4 130.82M223.4 130.82L222.82 129.86M221.66 127.94L220.5 126.02M218.15 127.82L223.95 127.82M223.95 127.82L221.05 132.62M221.05 132.62L220.47 131.66M219.02 129.26L218.15 127.82M215.8 129.41L221.6 129.41M221.6 129.41L218.7 134.21M218.7 134.21L217.83 132.77M216.38 130.37L215.8 129.41M213.45 130.52L219.25 130.52M219.25 130.52L216.35 135.32M216.35 135.32L215.48 133.88M214.03 131.48L213.45 130.52M211.11 131.44L216.91 131.44M216.91 131.44L214.01 136.24M214.01 136.24L213.14 134.8M211.69 132.4L211.11 131.44M208.76 132.24L214.56 132.24M214.56 132.24L211.66 137.04M211.66 137.04L210.79 135.6M209.05 132.72L208.76 132.24M206.41 132.95L212.21 132.95M212.21 132.95L209.31 137.75M209.31 137.75L208.44 136.31M206.7 133.43L206.41 132.95M204.06 133.61L209.86 133.61M209.86 133.61L206.96 138.41M206.96 138.41L206.09 136.97M204.35 134.09L204.06 133.61M201.71 134.29L207.51 134.29M207.51 134.29L204.61 139.09M204.61 139.09L203.74 137.65M202 134.77L201.71 134.29M199.36 134.99L205.16 134.99M205.16 134.99L202.26 139.79M202.26 139.79L201.39 138.35M199.65 135.47L199.36 134.99M197.01 135.66L202.81 135.66M202.81 135.66L199.91 140.46M199.91 140.46L199.04 139.02M197.3 136.14L197.01 135.66M194.66 136.23L200.46 136.23M200.46 136.23L197.56 141.03M197.56 141.03L196.4 139.11M194.95 136.71L194.66 136.23M192.31 136.65L198.11 136.65M198.11 136.65L195.21 141.45M195.21 141.45L194.05 139.53M189.96 136.87L195.76 136.87M195.76 136.87L192.86 141.67M192.86 141.67L191.7 139.75M187.61 137.03L193.41 137.03M193.41 137.03L190.51 141.83M190.51 141.83L189.35 139.91M185.26 137.15L191.06 137.15M191.06 137.15L188.16 141.95M188.16 141.95L187 140.03M182.91 137.25L188.71 137.25M188.71 137.25L185.81 142.05M185.81 142.05L184.65 140.13M180.56 137.33L186.36 137.33M186.36 137.33L183.46 142.13M183.46 142.13L182.3 140.21M178.21 137.41L184.01 137.41M184.01 137.41L181.11 142.21M181.11 142.21L179.95 140.29M175.87 137.5L181.67 137.5M181.67 137.5L178.77 142.3M178.77 142.3L177.61 140.38M173.52 137.57L179.32 137.57M179.32 137.57L176.42 142.37M176.42 142.37L175.26 140.45M171.17 137.63L176.97 137.63M176.97 137.63L174.07 142.43M174.07 142.43L172.91 140.51M168.82 137.67L174.62 137.67M174.62 137.67L171.72 142.47M171.72 142.47L170.56 140.55M169.95 137.68L172.27 137.68M172.27 137.68L169.37 142.48M169.37 142.48L168.21 140.56M167.6 137.68L169.92 137.68M169.92 137.68L167.02 142.48M167.02 142.48L165.86 140.56M165.25 137.68L167.57 137.68M167.57 137.68L164.67 142.48M164.67 142.48L163.51 140.56M159.42 137.68L165.22 137.68M165.22 137.68L162.32 142.48M162.32 142.48L161.16 140.56M157.07 137.68L162.87 137.68M162.87 137.68L159.97 142.48M159.97 142.48L158.81 140.56M154.72 137.69L160.52 137.69M160.52 137.69L157.62 142.49M157.62 142.49L156.46 140.57M152.37 137.69L158.17 137.69M158.17 137.69L155.27 142.49M155.27 142.49L154.11 140.57M150.02 137.7L155.82 137.7M155.82 137.7L152.92 142.5M152.92 142.5L151.76 140.58M147.67 137.71L153.47 137.71M153.47 137.71L150.57 142.51M150.57 142.51L149.41 140.59M145.32 137.72L151.12 137.72M151.12 137.72L148.22 142.52M148.22 142.52L147.06 140.6M142.97 137.74L148.77 137.74M148.77 137.74L145.87 142.54M145.87 142.54L144.71 140.62M140.63 137.76L146.43 137.76M146.43 137.76L143.53 142.56M143.53 142.56L142.37 140.64M138.28 137.77L144.08 137.77M144.08 137.77L141.18 142.57M141.18 142.57L140.02 140.65M135.93 137.79L141.73 137.79M141.73 137.79L138.83 142.59M138.83 142.59L137.67 140.67M133.58 137.82L139.38 137.82M139.38 137.82L136.48 142.62M136.48 142.62L135.32 140.7M131.23 137.84L137.03 137.84M137.03 137.84L134.13 142.64M134.13 142.64L132.97 140.72M128.88 137.88L134.68 137.88M134.68 137.88L131.78 142.68M131.78 142.68L130.62 140.76M126.53 137.93L132.33 137.93M132.33 137.93L129.43 142.73M129.43 142.73L128.27 140.81M124.18 137.98L129.98 137.98M129.98 137.98L127.08 142.78M127.08 142.78L125.92 140.86M121.83 138.09L127.63 138.09M127.63 138.09L124.73 142.89M124.73 142.89L123.57 140.97M119.48 138.28L125.28 138.28M125.28 138.28L122.38 143.08M122.38 143.08L121.22 141.16M117.13 138.48L122.93 138.48M122.93 138.48L120.03 143.28M120.03 143.28L118.87 141.36M117.42 138.96L117.13 138.48M114.78 138.75L120.58 138.75M120.58 138.75L117.68 143.55M117.68 143.55L116.52 141.63M115.07 139.23L114.78 138.75M113.59 139.05L118.23 139.05M118.23 139.05L115.33 143.85M115.33 143.85L114.17 141.93M113.56 139.18L115.88 139.18M115.88 139.18L112.98 143.98M112.98 143.98L111.82 142.06M111.21 139L113.53 139M113.53 139L110.63 143.8M110.63 143.8L109.47 141.88M108.29 138.63L111.19 138.63M111.19 138.63L108.29 143.43M108.29 143.43L106.84 141.03M105.94 138.15L108.84 138.15M108.84 138.15L105.94 142.95M105.94 142.95L104.49 140.55M103.59 137.54L106.49 137.54M106.49 137.54L103.59 142.34M103.59 142.34L102.14 139.94M101.24 136.88L104.14 136.88M104.14 136.88L101.24 141.68M101.24 141.68L99.79 139.28M98.89 136.16L101.79 136.16M101.79 136.16L98.89 140.96M98.89 140.96L97.44 138.56M96.54 135.37L99.44 135.37M99.44 135.37L96.54 140.17M96.54 140.17L95.09 137.77M94.19 134.58L97.09 134.58M97.09 134.58L94.19 139.38M94.19 139.38L92.74 136.98M91.84 133.73L94.74 133.73M94.74 133.73L91.84 138.53M91.84 138.53L90.39 136.13M88.33 132.42L92.39 132.42M92.39 132.42L89.49 137.22M89.49 137.22L87.46 133.86M87.72 129.76L90.04 129.76M90.04 129.76L87.14 134.56M87.14 134.56L85.98 132.64M86.55 128.13L88.87 128.13M88.87 128.13L85.97 132.93M85.97 132.93L84.81 131.01M85.37 126.45L87.69 126.45M87.69 126.45L84.79 131.25M84.79 131.25L81.89 126.45M84.2 124.5L86.52 124.5M86.52 124.5L83.62 129.3M83.62 129.3L80.72 124.5M83.02 122.41L85.34 122.41M85.34 122.41L82.44 127.21M82.44 127.21L79.54 122.41M81.85 120.33L84.17 120.33M84.17 120.33L81.27 125.13M81.27 125.13L80.11 123.21M80.67 118.42L82.99 118.42M82.99 118.42L80.09 123.22M80.09 123.22L78.93 121.3M79.5 116.83L81.82 116.83M81.82 116.83L78.92 121.63M78.92 121.63L77.76 119.71M76.58 115.39L80.64 115.39M80.64 115.39L77.74 120.19M77.74 120.19L75.71 116.83M74.81 112.87L78.29 112.87M78.29 112.87L75.39 117.67M75.39 117.67L73.65 114.79M72.47 110.75L75.95 110.75M75.95 110.75L73.05 115.55M73.05 115.55L71.31 112.67M69.44 108.78L73.5 108.78M73.5 108.78L70.6 113.58M70.6 113.58L68.57 110.22M65.76 106.98L70.4 106.98M70.4 106.98L67.5 111.78M67.5 111.78L66.63 110.34M63.46 107.98L64.04 107.98M65.2 107.98L68.1 107.98M68.1 107.98L65.2 112.78M65.2 112.78L62.3 107.98M65.66 103.98L67.4 103.98M67.4 103.98L64.5 108.78M64.5 108.78L63.63 107.34M60.1 103.98L65.9 103.98M65.9 103.98L63 108.78M63 108.78L60.1 103.98M58.5 98.98L64.3 98.98M64.3 98.98L61.4 103.78M61.4 103.78L58.5 98.98M55.5 94.68L61.3 94.68M61.3 94.68L58.4 99.48M58.4 99.48L55.5 94.68M56.1 88.98L61.9 88.98M61.9 88.98L59 93.78M59 93.78L56.1 88.98M52.7 81.98L58.5 81.98M58.5 81.98L55.6 86.78M55.6 86.78L52.7 81.98" fill="none" stroke="#000" stroke-width="1.5" stroke-linecap="round"/>
<path fill="#000" d="M405.7 81.78L412.3 81.78L409 87.58ZM404.53 81.74L411.13 81.74L407.83 87.54ZM403.35 81.7L409.95 81.7L406.65 87.5ZM402.18 81.66L408.78 81.66L405.48 87.46ZM401 81.62L407.6 81.62L404.3 87.42ZM399.83 81.58L406.43 81.58L403.13 87.38ZM398.65 81.55L405.25 81.55L401.95 87.35ZM397.48 81.51L404.08 81.51L400.78 87.31ZM396.3 81.48L402.9 81.48L399.6 87.28ZM395.13 81.45L401.73 81.45L398.43 87.25ZM393.95 81.42L400.55 81.42L397.25 87.22ZM392.78 81.39L399.38 81.39L396.08 87.19ZM391.6 81.36L398.2 81.36L394.9 87.16ZM390.43 81.34L397.03 81.34L393.73 87.14ZM389.25 81.31L395.85 81.31L392.55 87.11ZM388.08 81.28L394.68 81.28L391.38 87.08ZM386.91 81.26L393.51 81.26L390.21 87.06ZM385.73 81.23L392.33 81.23L389.03 87.03ZM384.56 81.2L391.16 81.2L387.86 87ZM383.38 81.18L389.98 81.18L386.68 86.98ZM382.21 81.16L388.81 81.16L385.51 86.96ZM381.03 81.13L387.63 81.13L384.33 86.93ZM379.86 81.12L386.46 81.12L383.16 86.92ZM378.68 81.1L385.28 81.1L381.98 86.9ZM377.51 81.08L384.11 81.08L380.81 86.88ZM376.33 81.07L382.93 81.07L379.63 86.87ZM375.16 81.07L381.76 81.07L378.46 86.87ZM373.98 81.06L380.58 81.06L377.28 86.86ZM372.81 81.07L379.41 81.07L376.11 86.87ZM371.63 81.08L378.23 81.08L374.93 86.88ZM370.46 81.11L377.06 81.11L373.76 86.91ZM369.29 81.15L375.89 81.15L372.59 86.95ZM368.11 81.2L374.71 81.2L371.41 87ZM366.94 81.25L373.54 81.25L370.24 87.05ZM365.76 81.31L372.36 81.31L369.06 87.11ZM364.59 81.38L371.19 81.38L367.89 87.18ZM363.41 81.45L370.01 81.45L366.71 87.25ZM362.24 81.53L368.84 81.53L365.54 87.33ZM361.06 81.61L367.66 81.61L364.36 87.41ZM359.89 81.69L366.49 81.69L363.19 87.49ZM358.71 81.77L365.31 81.77L362.01 87.57ZM357.54 81.86L364.14 81.86L360.84 87.66ZM356.36 81.94L362.96 81.94L359.66 87.74ZM355.19 82.01L361.79 82.01L358.49 87.81ZM354.01 82.09L360.61 82.09L357.31 87.89ZM352.84 82.16L359.44 82.16L356.14 87.96ZM351.67 82.24L358.27 82.24L354.97 88.04ZM350.49 82.32L357.09 82.32L353.79 88.12ZM349.32 82.4L355.92 82.4L352.62 88.2ZM348.14 82.48L354.74 82.48L351.44 88.28ZM346.97 82.57L353.57 82.57L350.27 88.37ZM345.79 82.66L352.39 82.66L349.09 88.46ZM344.62 82.75L351.22 82.75L347.92 88.55ZM343.44 82.84L350.04 82.84L346.74 88.64ZM342.27 82.94L348.87 82.94L345.57 88.74ZM341.09 83.03L347.69 83.03L344.39 88.83ZM339.92 83.13L346.52 83.13L343.22 88.93ZM338.74 83.24L345.34 83.24L342.04 89.04ZM337.57 83.34L344.17 83.34L340.87 89.14ZM336.39 83.45L342.99 83.45L339.69 89.25ZM335.22 83.56L341.82 83.56L338.52 89.36ZM334.05 83.68L340.65 83.68L337.35 89.48ZM332.87 83.8L339.47 83.8L336.17 89.6ZM331.7 83.92L338.3 83.92L335 89.72ZM330.52 84.05L337.12 84.05L333.82 89.85ZM329.35 84.19L335.95 84.19L332.65 89.99ZM328.17 84.33L334.77 84.33L331.47 90.13ZM327 84.47L333.6 84.47L330.3 90.27ZM325.82 84.62L332.42 84.62L329.12 90.42ZM324.65 84.77L331.25 84.77L327.95 90.57ZM323.47 84.92L330.07 84.92L326.77 90.72ZM322.3 85.08L328.9 85.08L325.6 90.88ZM321.12 85.23L327.72 85.23L324.42 91.03ZM319.95 85.39L326.55 85.39L323.25 91.19ZM318.77 85.56L325.37 85.56L322.07 91.36ZM317.6 85.72L324.2 85.72L320.9 91.52ZM316.43 85.88L323.03 85.88L319.73 91.68ZM315.25 86.05L321.85 86.05L318.55 91.85ZM314.08 86.21L320.68 86.21L317.38 92.01ZM312.9 86.38L319.5 86.38L316.2 92.18ZM311.73 86.55L318.33 86.55L315.03 92.35ZM310.55 86.73L317.15 86.73L313.85 92.53ZM309.38 86.92L315.98 86.92L312.68 92.72ZM308.2 87.11L314.8 87.11L311.5 92.91ZM307.03 87.29L313.63 87.29L310.33 93.09ZM305.85 87.48L312.45 87.48L309.15 93.28ZM304.68 87.66L311.28 87.66L307.98 93.46ZM303.5 87.84L310.1 87.84L306.8 93.64ZM302.33 88L308.93 88L305.63 93.8ZM301.15 88.16L307.75 88.16L304.45 93.96ZM299.98 88.32L306.58 88.32L303.28 94.12ZM298.81 88.48L305.41 88.48L302.11 94.28ZM297.63 88.65L304.23 88.65L300.93 94.45ZM296.46 88.82L303.06 88.82L299.76 94.62ZM295.28 89.01L301.88 89.01L298.58 94.81ZM294.11 89.22L300.71 89.22L297.41 95.02ZM292.93 89.44L299.53 89.44L296.23 95.24ZM291.76 89.69L298.36 89.69L295.06 95.49ZM290.58 89.95L297.18 89.95L293.88 95.75ZM289.41 90.23L296.01 90.23L292.71 96.03ZM288.23 90.52L294.83 90.52L291.53 96.32ZM287.06 90.82L293.66 90.82L290.36 96.62ZM285.88 91.14L292.48 91.14L289.18 96.94ZM284.71 91.46L291.31 91.46L288.01 97.26ZM283.53 91.8L290.13 91.8L286.83 97.6ZM282.36 92.15L288.96 92.15L285.66 97.95ZM281.19 92.52L287.79 92.52L284.49 98.32ZM280.01 92.9L286.61 92.9L283.31 98.7ZM278.84 93.31L285.44 93.31L282.14 99.11ZM277.66 93.73L284.26 93.73L280.96 99.53ZM276.49 94.16L283.09 94.16L279.79 99.96ZM275.31 94.62L281.91 94.62L278.61 100.42ZM274.14 95.1L280.74 95.1L277.44 100.9ZM272.96 95.61L279.56 95.61L276.26 101.41ZM271.79 96.17L278.39 96.17L275.09 101.97ZM270.61 96.75L277.21 96.75L273.91 102.55ZM269.44 97.35L276.04 97.35L272.74 103.15ZM268.26 97.96L274.86 97.96L271.56 103.76ZM267.09 98.56L273.69 98.56L270.39 104.36ZM265.91 99.17L272.51 99.17L269.21 104.97ZM264.74 99.79L271.34 99.79L268.04 105.59ZM263.57 100.41L270.17 100.41L266.87 106.21ZM262.39 101.05L268.99 101.05L265.69 106.85ZM261.22 101.69L267.82 101.69L264.52 107.49ZM260.04 102.33L266.64 102.33L263.34 108.13ZM258.87 102.97L265.47 102.97L262.17 108.77ZM257.69 103.61L264.29 103.61L260.99 109.41ZM256.52 104.24L263.12 104.24L259.82 110.04ZM255.34 104.87L261.94 104.87L258.64 110.67ZM254.17 105.51L260.77 105.51L257.47 111.31ZM252.99 106.15L259.59 106.15L256.29 111.95ZM251.82 106.81L258.42 106.81L255.12 112.61ZM250.64 107.5L257.24 107.5L253.94 113.3ZM249.47 108.2L256.07 108.2L252.77 114ZM248.29 108.93L254.89 108.93L251.59 114.73ZM247.12 109.66L253.72 109.66L250.42 115.46ZM245.95 110.42L252.55 110.42L249.25 116.22ZM244.77 111.18L251.37 111.18L248.07 116.98ZM243.6 111.96L250.2 111.96L246.9 117.76ZM242.42 112.74L249.02 112.74L245.72 118.54ZM241.25 113.53L247.85 113.53L244.55 119.33ZM240.07 114.33L246.67 114.33L243.37 120.13ZM238.9 115.15L245.5 115.15L242.2 120.95ZM237.72 115.98L244.32 115.98L241.02 121.78ZM236.55 116.82L243.15 116.82L239.85 122.62ZM235.37 117.67L241.97 117.67L238.67 123.47ZM234.2 118.52L240.8 118.52L237.5 124.32ZM233.02 119.38L239.62 119.38L236.32 125.18ZM231.85 120.24L238.45 120.24L235.15 126.04ZM230.67 121.1L237.27 121.1L233.97 126.9ZM229.5 121.96L236.1 121.96L232.8 127.76ZM228.33 122.8L234.93 122.8L231.63 128.6ZM227.15 123.64L233.75 123.64L230.45 129.44ZM225.98 124.48L232.58 124.48L229.28 130.28ZM224.8 125.3L231.4 125.3L228.1 131.1ZM223.63 126.13L230.23 126.13L226.93 131.93ZM222.45 126.95L229.05 126.95L225.75 132.75ZM221.28 127.76L227.88 127.76L224.58 133.56ZM220.1 128.58L226.7 128.58L223.4 134.38ZM218.93 129.42L225.53 129.42L222.23 135.22ZM217.75 130.26L224.35 130.26L221.05 136.06ZM216.58 131.08L223.18 131.08L219.88 136.88ZM215.4 131.84L222 131.84L218.7 137.64ZM214.23 132.53L220.83 132.53L217.53 138.33ZM213.05 133.19L219.65 133.19L216.35 138.99ZM211.88 133.83L218.48 133.83L215.18 139.63ZM210.71 134.45L217.31 134.45L214.01 140.25ZM209.53 135.05L216.13 135.05L212.83 140.85ZM208.36 135.62L214.96 135.62L211.66 141.42ZM207.18 136.17L213.78 136.17L210.48 141.97ZM206.01 136.7L212.61 136.7L209.31 142.5ZM204.83 137.21L211.43 137.21L208.13 143.01ZM203.66 137.69L210.26 137.69L206.96 143.49ZM202.48 138.15L209.08 138.15L205.78 143.95ZM201.31 138.59L207.91 138.59L204.61 144.39ZM200.13 139.01L206.73 139.01L203.43 144.81ZM198.96 139.42L205.56 139.42L202.26 145.22ZM197.78 139.82L204.38 139.82L201.08 145.62ZM196.61 140.2L203.21 140.2L199.91 146ZM195.43 140.56L202.03 140.56L198.73 146.36ZM194.26 140.91L200.86 140.91L197.56 146.71ZM193.09 141.24L199.69 141.24L196.39 147.04ZM191.91 141.56L198.51 141.56L195.21 147.36ZM190.74 141.86L197.34 141.86L194.04 147.66ZM189.56 142.14L196.16 142.14L192.86 147.94ZM188.39 142.43L194.99 142.43L191.69 148.23ZM187.21 142.72L193.81 142.72L190.51 148.52ZM186.04 143L192.64 143L189.34 148.8ZM184.86 143.26L191.46 143.26L188.16 149.06ZM183.69 143.51L190.29 143.51L186.99 149.31ZM182.51 143.73L189.11 143.73L185.81 149.53ZM181.34 143.93L187.94 143.93L184.64 149.73ZM180.16 144.1L186.76 144.1L183.46 149.9ZM178.99 144.24L185.59 144.24L182.29 150.04ZM177.81 144.34L184.41 144.34L181.11 150.14ZM176.64 144.44L183.24 144.44L179.94 150.24ZM175.47 144.53L182.07 144.53L178.77 150.33ZM174.29 144.62L180.89 144.62L177.59 150.42ZM173.12 144.7L179.72 144.7L176.42 150.5ZM171.94 144.77L178.54 144.77L175.24 150.57ZM170.77 144.83L177.37 144.83L174.07 150.63ZM169.59 144.88L176.19 144.88L172.89 150.68ZM168.42 144.92L175.02 144.92L171.72 150.72ZM167.24 144.95L173.84 144.95L170.54 150.75ZM166.07 144.97L172.67 144.97L169.37 150.77ZM164.89 144.99L171.49 144.99L168.19 150.79ZM163.72 145.01L170.32 145.01L167.02 150.81ZM162.54 145.03L169.14 145.03L165.84 150.83ZM161.37 145.04L167.97 145.04L164.67 150.84ZM160.19 145.05L166.79 145.05L163.49 150.85ZM159.02 145.06L165.62 145.06L162.32 150.86ZM157.85 145.06L164.45 145.06L161.15 150.86ZM156.67 145.06L163.27 145.06L159.97 150.86ZM155.5 145.06L162.1 145.06L158.8 150.86ZM154.32 145.06L160.92 145.06L157.62 150.86ZM153.15 145.06L159.75 145.06L156.45 150.86ZM151.97 145.06L158.57 145.06L155.27 150.86ZM150.8 145.06L157.4 145.06L154.1 150.86ZM149.62 145.06L156.22 145.06L152.92 150.86ZM148.45 145.06L155.05 145.06L151.75 150.86ZM147.27 145.06L153.87 145.06L150.57 150.86ZM146.1 145.06L152.7 145.06L149.4 150.86ZM144.92 145.06L151.52 145.06L148.22 150.86ZM143.75 145.06L150.35 145.06L147.05 150.86ZM142.57 145.06L149.17 145.06L145.87 150.86ZM141.4 145.06L148 145.06L144.7 150.86ZM140.23 145.06L146.83 145.06L143.53 150.86ZM139.05 145.06L145.65 145.06L142.35 150.86ZM137.88 145.06L144.48 145.06L141.18 150.86ZM136.7 145.06L143.3 145.06L140 150.86ZM135.53 145.06L142.13 145.06L138.83 150.86ZM134.35 145.04L140.95 145.04L137.65 150.84ZM133.18 145.01L139.78 145.01L136.48 150.81ZM132 144.97L138.6 144.97L135.3 150.77ZM130.83 144.94L137.43 144.94L134.13 150.74ZM129.65 144.91L136.25 144.91L132.95 150.71ZM128.48 144.88L135.08 144.88L131.78 150.68ZM127.3 144.87L133.9 144.87L130.6 150.67ZM126.13 144.86L132.73 144.86L129.43 150.66ZM124.95 144.86L131.55 144.86L128.25 150.66ZM123.78 144.86L130.38 144.86L127.08 150.66ZM122.61 144.86L129.21 144.86L125.91 150.66ZM121.43 144.86L128.03 144.86L124.73 150.66ZM120.26 144.87L126.86 144.87L123.56 150.67ZM119.08 144.97L125.68 144.97L122.38 150.77ZM117.91 145.14L124.51 145.14L121.21 150.94ZM116.73 145.36L123.33 145.36L120.03 151.16ZM115.56 145.74L122.16 145.74L118.86 151.54ZM114.38 146.31L120.98 146.31L117.68 152.11ZM113.21 146.82L119.81 146.82L116.51 152.62ZM112.03 147.11L118.63 147.11L115.33 152.91ZM110.86 147.35L117.46 147.35L114.16 153.15ZM109.68 147.51L116.28 147.51L112.98 153.31ZM108.51 147.56L115.11 147.56L111.81 153.36ZM107.33 147.55L113.93 147.55L110.63 153.35ZM106.16 147.53L112.76 147.53L109.46 153.33ZM104.99 147.48L111.59 147.48L108.29 153.28ZM103.81 147.43L110.41 147.43L107.11 153.23ZM102.64 147.36L109.24 147.36L105.94 153.16ZM101.46 147.16L108.06 147.16L104.76 152.96ZM100.29 146.78L106.89 146.78L103.59 152.58ZM99.11 146.33L105.71 146.33L102.41 152.13ZM97.94 145.82L104.54 145.82L101.24 151.62ZM96.76 145.17L103.36 145.17L100.06 150.97ZM95.59 144.43L102.19 144.43L98.89 150.23ZM94.41 143.68L101.01 143.68L97.71 149.48ZM93.24 142.88L99.84 142.88L96.54 148.68ZM92.06 142.04L98.66 142.04L95.36 147.84ZM90.89 141.2L97.49 141.2L94.19 147ZM89.71 140.34L96.31 140.34L93.01 146.14ZM88.54 139.43L95.14 139.43L91.84 145.23ZM87.37 138.53L93.97 138.53L90.67 144.33ZM86.19 137.72L92.79 137.72L89.49 143.52ZM85.02 137.07L91.62 137.07L88.32 142.87ZM83.84 136.6L90.44 136.6L87.14 142.4ZM82.67 136.22L89.27 136.22L85.97 142.02ZM81.49 135.85L88.09 135.85L84.79 141.65ZM80.32 135.42L86.92 135.42L83.62 141.22ZM79.14 134.99L85.74 134.99L82.44 140.79ZM77.97 134.51L84.57 134.51L81.27 140.31ZM76.79 133.92L83.39 133.92L80.09 139.72ZM75.62 133.11L82.22 133.11L78.92 138.91ZM74.44 131.98L81.04 131.98L77.74 137.78ZM73.27 130.37L79.87 130.37L76.57 136.17ZM72.09 127.63L78.69 127.63L75.39 133.43ZM70.92 124.1L77.52 124.1L74.22 129.9ZM69.75 119.73L76.35 119.73L73.05 125.53ZM68.57 115.11L75.17 115.11L71.87 120.91ZM67.4 110.02L74 110.02L70.7 115.82ZM66.22 104.8L72.82 104.8L69.52 110.6ZM65.05 99.91L71.65 99.91L68.35 105.71ZM63.87 95.58L70.47 95.58L67.17 101.38ZM62.7 91.55L69.3 91.55L66 97.35ZM61.52 87.45L68.12 87.45L64.82 93.25ZM60.35 83.38L66.95 83.38L63.65 89.18ZM59.17 79.31L65.77 79.31L62.47 85.11ZM58 72.58L64.6 72.58L61.3 78.38ZM56.82 67.72L63.42 67.72L60.12 73.52ZM55.65 65.6L62.25 65.6L58.95 71.4ZM54.47 64.23L61.07 64.23L57.77 70.03ZM53.3 64.41L59.9 64.41L56.6 70.21Z"/>
<g fill="#fff" stroke="#000" stroke-width="0.95"><path d="M59.51 43.65L57 45.1L54.49 43.65L54.49 40.75L57 39.3L59.51 40.75Z"/><path d="M71.26 82.65L68.75 84.1L66.24 82.65L66.24 79.75L68.75 78.3L71.26 79.75Z"/></g>
<g fill="#fff" stroke="#000" stroke-width="1.05"><circle cx="408.7" cy="87.3" r="2.8"/><circle cx="403.1" cy="88.6" r="2.8"/><circle cx="397" cy="87.3" r="2.8"/><circle cx="391.3" cy="87.8" r="2.8"/><circle cx="385.6" cy="88.6" r="2.8"/><circle cx="379.6" cy="87.7" r="2.8"/><circle cx="373.9" cy="88.3" r="2.8"/><circle cx="367.9" cy="89.5" r="2.8"/><circle cx="362.1" cy="88.7" r="2.8"/><circle cx="356.2" cy="89.8" r="2.8"/><circle cx="350.4" cy="89.2" r="2.8"/><circle cx="344.5" cy="89.8" r="2.8"/><circle cx="338.5" cy="90.8" r="2.8"/><circle cx="332.7" cy="90.4" r="2.8"/><circle cx="326.9" cy="91.7" r="2.8"/><circle cx="321.1" cy="91.7" r="2.8"/><circle cx="315" cy="93.6" r="2.8"/><circle cx="309.1" cy="94.7" r="2.8"/><circle cx="303.1" cy="95.7" r="2.8"/><circle cx="297.2" cy="96.2" r="2.8"/><circle cx="291.4" cy="98" r="2.8"/><circle cx="285.5" cy="100.8" r="2.8"/><circle cx="279.6" cy="102.1" r="2.8"/><circle cx="273.9" cy="105.8" r="2.8"/><circle cx="267.8" cy="109.2" r="2.8"/><circle cx="261.8" cy="111.6" r="2.8"/><circle cx="256.1" cy="115" r="2.8"/><circle cx="250.2" cy="119" r="2.8"/><circle cx="244.3" cy="122.8" r="2.8"/><circle cx="238.6" cy="126.3" r="2.8"/><circle cx="232.8" cy="129.8" r="2.8"/><circle cx="226.9" cy="134.2" r="2.8"/><circle cx="221" cy="138.5" r="2.8"/><circle cx="215.1" cy="140.8" r="2.8"/><circle cx="209.1" cy="143.3" r="2.8"/><circle cx="203.1" cy="145.8" r="2.8"/><circle cx="197.3" cy="147.7" r="2.8"/><circle cx="191.5" cy="150" r="2.8"/><circle cx="185.6" cy="152.3" r="2.8"/><circle cx="179.6" cy="151.5" r="2.8"/><circle cx="173.8" cy="151" r="2.8"/><circle cx="168" cy="152" r="2.8"/><circle cx="162.1" cy="152.5" r="2.8"/><circle cx="156.3" cy="154.2" r="2.8"/><circle cx="150.8" cy="150.5" r="2.8"/><circle cx="145" cy="150.5" r="2.8"/><circle cx="139" cy="150.5" r="2.8"/><circle cx="133" cy="151.6" r="2.8"/><circle cx="127.3" cy="153.5" r="2.8"/><circle cx="121.3" cy="150.5" r="2.8"/><circle cx="115.3" cy="155.3" r="2.8"/><circle cx="109.5" cy="153.5" r="2.8"/><circle cx="103.6" cy="150.6" r="2.8"/><circle cx="97.8" cy="145.8" r="2.8"/><circle cx="91.8" cy="143.8" r="2.8"/><circle cx="85.7" cy="134" r="2.8"/><circle cx="80" cy="127.2" r="2.8"/><circle cx="74.6" cy="103.2" r="2.8"/><circle cx="62.6" cy="82" r="2.8"/><circle cx="56.6" cy="102" r="2.8"/></g>
<circle cx="340.6" cy="166" r="3.25" fill="#000"/><circle cx="340.6" cy="178.3" r="2.8" fill="#fff" stroke="#000" stroke-width="1"/><g fill="#000"><path d="M337.3 188.86L343.9 188.86L340.6 194.66Z"/></g><g fill="#fff" stroke="#000" stroke-width="0.95"><path d="M337.6 201.5L343.6 201.5L340.6 206.5Z"/></g><g fill="#000"><path d="M343.54 217.5L340.6 219.2L337.66 217.5L337.66 214.1L340.6 212.4L343.54 214.1Z"/></g><g fill="#fff" stroke="#000" stroke-width="0.9"><path d="M343.15 229.57L340.6 231.05L338.05 229.57L338.05 226.62L340.6 225.15L343.15 226.62Z"/></g><text x="357" y="168.8" font-size="10">C325A</text><text x="357" y="181.28" font-size="10">RPA3WT</text><text x="357" y="193.76" font-size="10">H328A</text><text x="357" y="206.24" font-size="10">Double</text><text x="357" y="218.72" font-size="10">C313A</text><text x="357" y="231.2" font-size="10">C316A</text>
</svg>
</body></html>
